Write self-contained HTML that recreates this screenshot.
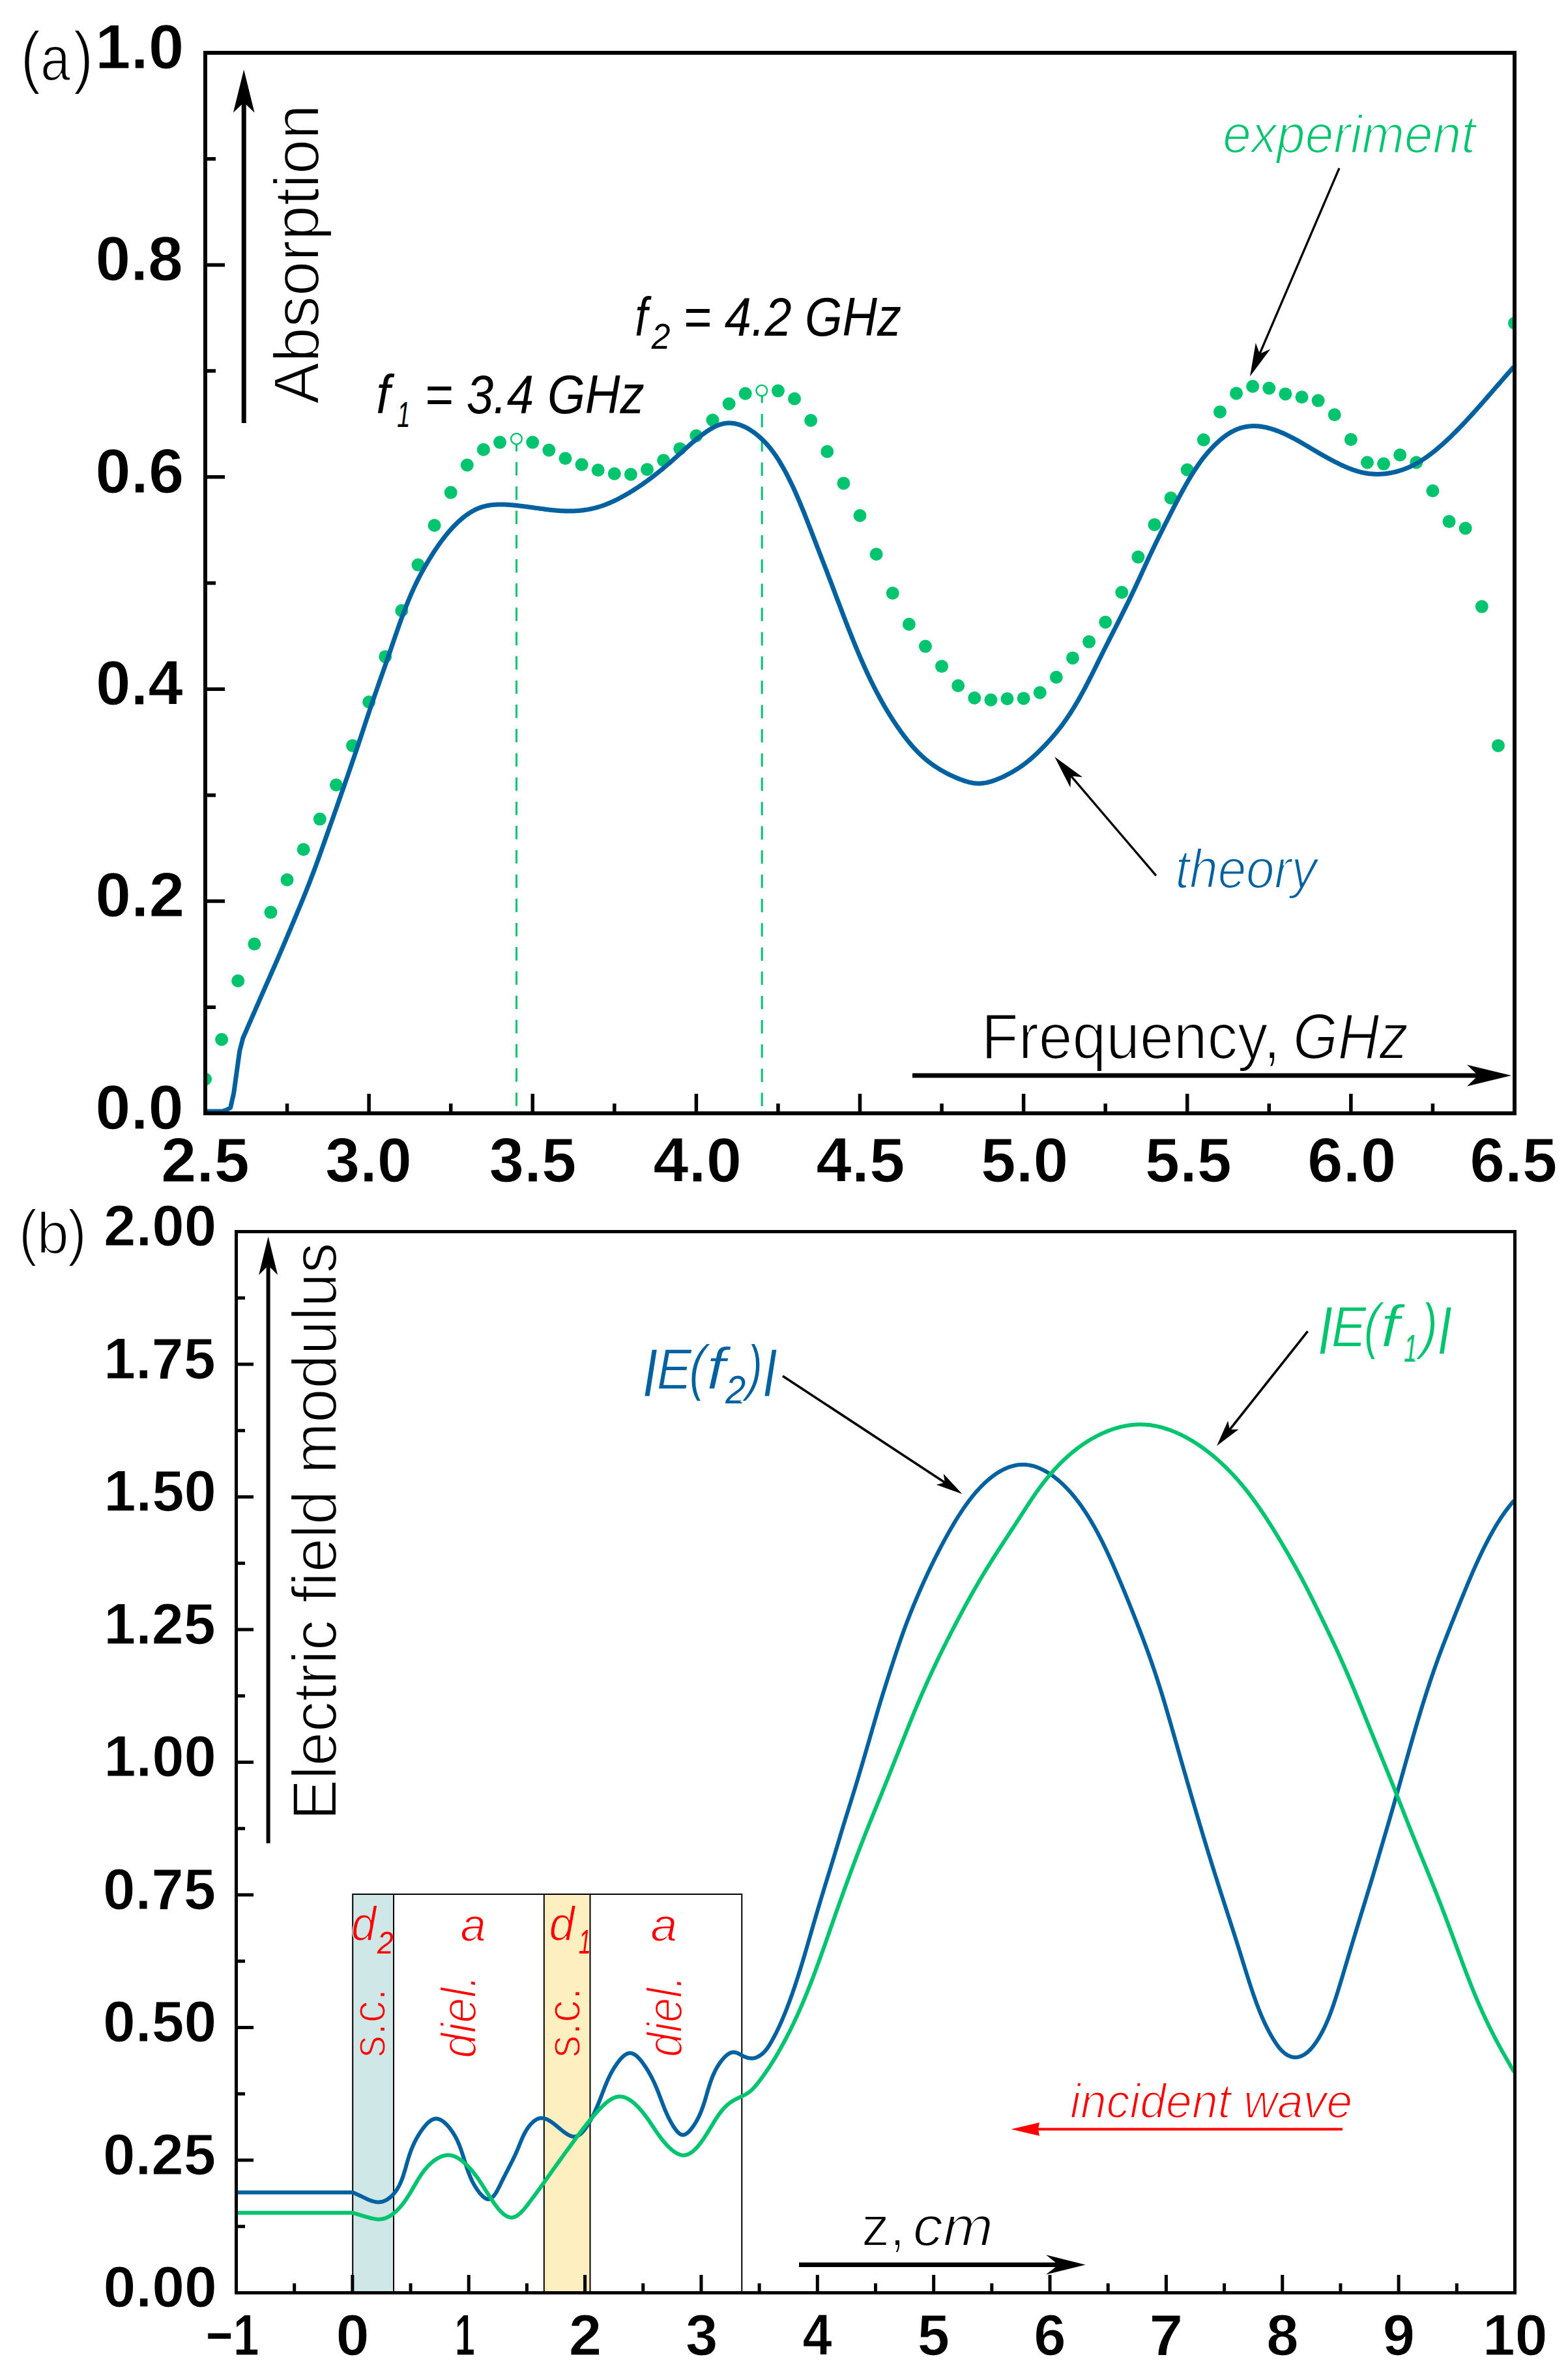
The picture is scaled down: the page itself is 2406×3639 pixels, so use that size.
<!DOCTYPE html><html><head><meta charset="utf-8"><title>Absorption and electric field</title><style>html,body{margin:0;padding:0;background:#fff;overflow:hidden}svg{display:block}</style></head><body><svg xmlns="http://www.w3.org/2000/svg" width="2406" height="3639" viewBox="0 0 2406 3639"><rect x="0" y="0" width="2406" height="3639" fill="#fff"/>
<defs><clipPath id="ca"><rect x="318" y="84" width="2003" height="1621"/></clipPath></defs>
<g fill="#00c46e" clip-path="url(#ca)"><circle cx="315" cy="1655.5" r="10"/><circle cx="340.11" cy="1594.7" r="10"/><circle cx="365.23" cy="1504.7" r="10"/><circle cx="390.34" cy="1448.3" r="10"/><circle cx="415.45" cy="1399.6" r="10"/><circle cx="440.56" cy="1349.8" r="10"/><circle cx="465.68" cy="1303.3" r="10"/><circle cx="490.79" cy="1256.6" r="10"/><circle cx="515.9" cy="1204.3" r="10"/><circle cx="541.01" cy="1143.9" r="10"/><circle cx="566.12" cy="1077" r="10"/><circle cx="591.24" cy="1007.4" r="10"/><circle cx="616.35" cy="936.7" r="10"/><circle cx="641.46" cy="866.6" r="10"/><circle cx="666.58" cy="806" r="10"/><circle cx="691.69" cy="755.6" r="10"/><circle cx="716.8" cy="713.5" r="10"/><circle cx="741.91" cy="689.8" r="10"/><circle cx="767.02" cy="678.6" r="10"/><circle cx="817.25" cy="678.6" r="10"/><circle cx="842.36" cy="690.6" r="10"/><circle cx="867.48" cy="703.3" r="10"/><circle cx="892.59" cy="712.8" r="10"/><circle cx="917.7" cy="721.2" r="10"/><circle cx="942.81" cy="726.8" r="10"/><circle cx="967.92" cy="727.8" r="10"/><circle cx="993.04" cy="720.3" r="10"/><circle cx="1018.15" cy="706.2" r="10"/><circle cx="1043.26" cy="688.4" r="10"/><circle cx="1068.38" cy="668.5" r="10"/><circle cx="1093.49" cy="644.5" r="10"/><circle cx="1118.6" cy="619.5" r="10"/><circle cx="1143.71" cy="603.7" r="10"/><circle cx="1193.94" cy="599.6" r="10"/><circle cx="1219.05" cy="611.8" r="10"/><circle cx="1244.16" cy="645" r="10"/><circle cx="1269.28" cy="692.7" r="10"/><circle cx="1294.39" cy="741.4" r="10"/><circle cx="1319.5" cy="791" r="10"/><circle cx="1344.61" cy="850.3" r="10"/><circle cx="1369.72" cy="910" r="10"/><circle cx="1394.84" cy="957.7" r="10"/><circle cx="1419.95" cy="991.6" r="10"/><circle cx="1445.06" cy="1022.2" r="10"/><circle cx="1470.17" cy="1052" r="10"/><circle cx="1495.29" cy="1070.7" r="10"/><circle cx="1520.4" cy="1073.7" r="10"/><circle cx="1545.51" cy="1072" r="10"/><circle cx="1570.62" cy="1071.4" r="10"/><circle cx="1595.74" cy="1062.5" r="10"/><circle cx="1620.85" cy="1039" r="10"/><circle cx="1645.96" cy="1009.4" r="10"/><circle cx="1671.08" cy="984.6" r="10"/><circle cx="1696.19" cy="954.5" r="10"/><circle cx="1721.3" cy="908.8" r="10"/><circle cx="1746.41" cy="854.6" r="10"/><circle cx="1771.53" cy="804.9" r="10"/><circle cx="1796.64" cy="764" r="10"/><circle cx="1821.75" cy="720.7" r="10"/><circle cx="1846.86" cy="674.8" r="10"/><circle cx="1871.97" cy="631.9" r="10"/><circle cx="1897.09" cy="603.4" r="10"/><circle cx="1922.2" cy="592.7" r="10"/><circle cx="1947.31" cy="595.6" r="10"/><circle cx="1972.42" cy="604.4" r="10"/><circle cx="1997.54" cy="609.2" r="10"/><circle cx="2022.65" cy="614.6" r="10"/><circle cx="2047.76" cy="636.3" r="10"/><circle cx="2072.88" cy="674.3" r="10"/><circle cx="2097.99" cy="709.5" r="10"/><circle cx="2123.1" cy="711.6" r="10"/><circle cx="2148.21" cy="698" r="10"/><circle cx="2173.32" cy="709.5" r="10"/><circle cx="2198.44" cy="753" r="10"/><circle cx="2223.55" cy="800.1" r="10"/><circle cx="2248.66" cy="810.5" r="10"/><circle cx="2273.78" cy="930.6" r="10"/><circle cx="2298.89" cy="1143.9" r="10"/><circle cx="2324" cy="495.8" r="10"/></g>
<g stroke="#00c46e" stroke-width="3" stroke-dasharray="20.5 16.7" fill="none"><line x1="792.5" y1="671.9" x2="792.5" y2="1705"/><line x1="1169.2" y1="597.8" x2="1169.2" y2="1705"/></g>
<g stroke="#00c46e" stroke-width="2.4" fill="#fff"><circle cx="792.5" cy="673.3" r="8.3"/><circle cx="1168.8" cy="599.2" r="8.3"/></g>
<path d="M318,1705L340.8,1705L347,1703L353.6,1699.5L358.7,1677L367.6,1613L372.7,1592.93L374.2,1589.47L375.7,1586.02L377.2,1582.56L378.7,1579.11L380.2,1575.66L381.7,1572.21L383.2,1568.76L384.7,1565.31L386.2,1561.86L387.7,1558.42L389.2,1554.98L390.7,1551.54L392.2,1548.1L393.7,1544.67L395.2,1541.24L396.7,1537.81L398.2,1534.39L399.7,1530.97L401.2,1527.55L402.7,1524.14L404.2,1520.73L405.7,1517.32L407.2,1513.91L408.7,1510.51L410.2,1507.11L411.7,1503.72L413.2,1500.32L414.7,1496.92L416.2,1493.52L417.7,1490.11L419.2,1486.7L420.7,1483.29L422.2,1479.87L423.7,1476.44L425.2,1473L426.7,1469.55L428.2,1466.08L429.7,1462.61L431.2,1459.12L432.7,1455.63L434.2,1452.12L435.7,1448.6L437.2,1445.08L438.7,1441.54L440.2,1438L441.7,1434.45L443.2,1430.9L444.7,1427.34L446.2,1423.77L447.7,1420.2L449.2,1416.62L450.7,1413.05L452.2,1409.46L453.7,1405.88L455.2,1402.29L456.7,1398.7L458.2,1395.1L459.7,1391.5L461.2,1387.88L462.7,1384.24L464.2,1380.59L465.7,1376.92L467.2,1373.23L468.7,1369.52L470.2,1365.78L471.7,1362.02L473.2,1358.22L474.7,1354.39L476.2,1350.53L477.7,1346.63L479.2,1342.7L480.7,1338.72L482.2,1334.71L483.7,1330.66L485.2,1326.59L486.7,1322.49L488.2,1318.36L489.7,1314.21L491.2,1310.04L492.7,1305.85L494.2,1301.65L495.7,1297.44L497.2,1293.21L498.7,1288.98L500.2,1284.75L501.7,1280.51L503.2,1276.27L504.7,1272.03L506.2,1267.79L507.7,1263.55L509.2,1259.3L510.7,1255.06L512.2,1250.81L513.7,1246.56L515.2,1242.3L516.7,1238.04L518.2,1233.77L519.7,1229.5L521.2,1225.23L522.7,1220.95L524.2,1216.66L525.7,1212.36L527.2,1208.06L528.7,1203.76L530.2,1199.44L531.7,1195.12L533.2,1190.78L534.7,1186.44L536.2,1182.08L537.7,1177.72L539.2,1173.34L540.7,1168.95L542.2,1164.55L543.7,1160.13L545.2,1155.7L546.7,1151.26L548.2,1146.8L549.7,1142.32L551.2,1137.83L552.7,1133.32L554.2,1128.81L555.7,1124.28L557.2,1119.75L558.7,1115.22L560.2,1110.7L561.7,1106.17L563.2,1101.66L564.7,1097.16L566.2,1092.66L567.7,1088.19L569.2,1083.74L570.7,1079.31L572.2,1074.9L573.7,1070.53L575.2,1066.18L576.7,1061.85L578.2,1057.54L579.7,1053.25L581.2,1048.97L582.7,1044.7L584.2,1040.43L585.7,1036.17L587.2,1031.91L588.7,1027.64L590.2,1023.36L591.7,1019.07L593.2,1014.77L594.7,1010.45L596.2,1006.1L597.7,1001.74L599.2,997.36L600.7,992.97L602.2,988.58L603.7,984.19L605.2,979.82L606.7,975.45L608.2,971.11L609.7,966.79L611.2,962.51L612.7,958.27L614.2,954.07L615.7,949.92L617.2,945.83L618.7,941.8L620.2,937.83L621.7,933.94L623.2,930.1L624.7,926.34L626.2,922.64L627.7,919.01L629.2,915.44L630.7,911.95L632.2,908.52L633.7,905.16L635.2,901.87L636.7,898.64L638.2,895.49L639.7,892.4L641.2,889.39L642.7,886.43L644.2,883.54L645.7,880.7L647.2,877.92L648.7,875.19L650.2,872.51L651.7,869.87L653.2,867.27L654.7,864.71L656.2,862.19L657.7,859.69L659.2,857.23L660.7,854.8L662.2,852.4L663.7,850.03L665.2,847.7L666.7,845.4L668.2,843.13L669.7,840.9L671.2,838.7L672.7,836.54L674.2,834.42L675.7,832.33L677.2,830.27L678.7,828.26L680.2,826.28L681.7,824.34L683.2,822.44L684.7,820.58L686.2,818.75L687.7,816.96L689.2,815.21L690.7,813.49L692.2,811.82L693.7,810.18L695.2,808.57L696.7,807L698.2,805.47L699.7,803.97L701.2,802.51L702.7,801.08L704.2,799.69L705.7,798.34L707.2,797.02L708.7,795.74L710.2,794.49L711.7,793.28L713.2,792.11L714.7,790.97L716.2,789.88L717.7,788.82L719.2,787.79L720.7,786.81L722.2,785.87L723.7,784.96L725.2,784.09L726.7,783.27L728.2,782.48L729.7,781.73L731.2,781.02L732.7,780.36L734.2,779.73L735.7,779.14L737.2,778.6L738.7,778.09L740.2,777.61L741.7,777.17L743.2,776.77L744.7,776.4L746.2,776.06L747.7,775.75L749.2,775.47L750.7,775.22L752.2,774.99L753.7,774.79L755.2,774.62L756.7,774.47L758.2,774.34L759.7,774.23L761.2,774.14L762.7,774.07L764.2,774.02L765.7,773.99L767.2,773.97L768.7,773.96L770.2,773.98L771.7,774L773.2,774.04L774.7,774.09L776.2,774.16L777.7,774.23L779.2,774.32L780.7,774.42L782.2,774.53L783.7,774.64L785.2,774.77L786.7,774.9L788.2,775.04L789.7,775.19L791.2,775.34L792.7,775.5L794.2,775.66L795.7,775.83L797.2,776L798.7,776.18L800.2,776.36L801.7,776.55L803.2,776.74L804.7,776.93L806.2,777.12L807.7,777.32L809.2,777.52L810.7,777.72L812.2,777.93L813.7,778.13L815.2,778.34L816.7,778.55L818.2,778.76L819.7,778.97L821.2,779.18L822.7,779.39L824.2,779.6L825.7,779.81L827.2,780.02L828.7,780.22L830.2,780.43L831.7,780.63L833.2,780.84L834.7,781.04L836.2,781.23L837.7,781.42L839.2,781.61L840.7,781.8L842.2,781.98L843.7,782.15L845.2,782.32L846.7,782.48L848.2,782.64L849.7,782.79L851.2,782.94L852.7,783.07L854.2,783.2L855.7,783.33L857.2,783.44L858.7,783.54L860.2,783.64L861.7,783.73L863.2,783.8L864.7,783.87L866.2,783.93L867.7,783.97L869.2,784.01L870.7,784.04L872.2,784.05L873.7,784.05L875.2,784.04L876.7,784.02L878.2,783.99L879.7,783.94L881.2,783.88L882.7,783.81L884.2,783.73L885.7,783.63L887.2,783.52L888.7,783.4L890.2,783.26L891.7,783.1L893.2,782.93L894.7,782.75L896.2,782.55L897.7,782.34L899.2,782.11L900.7,781.87L902.2,781.61L903.7,781.34L905.2,781.05L906.7,780.74L908.2,780.42L909.7,780.08L911.2,779.72L912.7,779.35L914.2,778.96L915.7,778.55L917.2,778.13L918.7,777.69L920.2,777.23L921.7,776.75L923.2,776.26L924.7,775.75L926.2,775.21L927.7,774.67L929.2,774.1L930.7,773.52L932.2,772.92L933.7,772.3L935.2,771.67L936.7,771.02L938.2,770.36L939.7,769.68L941.2,768.98L942.7,768.28L944.2,767.56L945.7,766.82L947.2,766.07L948.7,765.31L950.2,764.53L951.7,763.75L953.2,762.95L954.7,762.14L956.2,761.31L957.7,760.48L959.2,759.64L960.7,758.78L962.2,757.91L963.7,757.03L965.2,756.14L966.7,755.24L968.2,754.32L969.7,753.4L971.2,752.47L972.7,751.52L974.2,750.56L975.7,749.6L977.2,748.62L978.7,747.63L980.2,746.63L981.7,745.62L983.2,744.61L984.7,743.58L986.2,742.54L987.7,741.49L989.2,740.43L990.7,739.36L992.2,738.28L993.7,737.2L995.2,736.1L996.7,734.99L998.2,733.87L999.7,732.74L1001.2,731.61L1002.7,730.46L1004.2,729.3L1005.7,728.13L1007.2,726.95L1008.7,725.77L1010.2,724.57L1011.7,723.36L1013.2,722.14L1014.7,720.92L1016.2,719.68L1017.7,718.44L1019.2,717.18L1020.7,715.92L1022.2,714.65L1023.7,713.37L1025.2,712.09L1026.7,710.79L1028.2,709.49L1029.7,708.18L1031.2,706.87L1032.7,705.55L1034.2,704.22L1035.7,702.89L1037.2,701.55L1038.7,700.2L1040.2,698.85L1041.7,697.5L1043.2,696.15L1044.7,694.79L1046.2,693.44L1047.7,692.09L1049.2,690.73L1050.7,689.38L1052.2,688.04L1053.7,686.7L1055.2,685.37L1056.7,684.04L1058.2,682.72L1059.7,681.41L1061.2,680.11L1062.7,678.82L1064.2,677.55L1065.7,676.28L1067.2,675.03L1068.7,673.8L1070.2,672.58L1071.7,671.38L1073.2,670.19L1074.7,669.03L1076.2,667.88L1077.7,666.76L1079.2,665.65L1080.7,664.57L1082.2,663.52L1083.7,662.48L1085.2,661.47L1086.7,660.49L1088.2,659.54L1089.7,658.61L1091.2,657.72L1092.7,656.85L1094.2,656.03L1095.7,655.24L1097.2,654.49L1098.7,653.78L1100.2,653.12L1101.7,652.5L1103.2,651.94L1104.7,651.42L1106.2,650.95L1107.7,650.54L1109.2,650.17L1110.7,649.86L1112.2,649.59L1113.7,649.38L1115.2,649.22L1116.7,649.11L1118.2,649.05L1119.7,649.04L1121.2,649.09L1122.7,649.18L1124.2,649.33L1125.7,649.52L1127.2,649.77L1128.7,650.06L1130.2,650.39L1131.7,650.78L1133.2,651.21L1134.7,651.68L1136.2,652.2L1137.7,652.76L1139.2,653.36L1140.7,654L1142.2,654.68L1143.7,655.4L1145.2,656.16L1146.7,656.96L1148.2,657.8L1149.7,658.68L1151.2,659.6L1152.7,660.57L1154.2,661.57L1155.7,662.61L1157.2,663.7L1158.7,664.82L1160.2,665.99L1161.7,667.19L1163.2,668.44L1164.7,669.73L1166.2,671.06L1167.7,672.42L1169.2,673.83L1170.7,675.28L1172.2,676.77L1173.7,678.3L1175.2,679.88L1176.7,681.52L1178.2,683.2L1179.7,684.95L1181.2,686.75L1182.7,688.61L1184.2,690.53L1185.7,692.51L1187.2,694.55L1188.7,696.66L1190.2,698.83L1191.7,701.06L1193.2,703.35L1194.7,705.71L1196.2,708.13L1197.7,710.61L1199.2,713.16L1200.7,715.76L1202.2,718.42L1203.7,721.14L1205.2,723.92L1206.7,726.75L1208.2,729.63L1209.7,732.57L1211.2,735.56L1212.7,738.61L1214.2,741.71L1215.7,744.86L1217.2,748.07L1218.7,751.33L1220.2,754.64L1221.7,758.01L1223.2,761.43L1224.7,764.89L1226.2,768.4L1227.7,771.96L1229.2,775.57L1230.7,779.21L1232.2,782.9L1233.7,786.63L1235.2,790.39L1236.7,794.18L1238.2,798L1239.7,801.84L1241.2,805.7L1242.7,809.58L1244.2,813.46L1245.7,817.34L1247.2,821.23L1248.7,825.12L1250.2,829.01L1251.7,832.91L1253.2,836.8L1254.7,840.68L1256.2,844.57L1257.7,848.45L1259.2,852.32L1260.7,856.19L1262.2,860.07L1263.7,863.94L1265.2,867.82L1266.7,871.71L1268.2,875.61L1269.7,879.51L1271.2,883.44L1272.7,887.38L1274.2,891.33L1275.7,895.29L1277.2,899.26L1278.7,903.23L1280.2,907.21L1281.7,911.2L1283.2,915.18L1284.7,919.17L1286.2,923.15L1287.7,927.13L1289.2,931.1L1290.7,935.06L1292.2,939.01L1293.7,942.95L1295.2,946.88L1296.7,950.79L1298.2,954.69L1299.7,958.56L1301.2,962.41L1302.7,966.24L1304.2,970.05L1305.7,973.83L1307.2,977.58L1308.7,981.31L1310.2,985.01L1311.7,988.68L1313.2,992.33L1314.7,995.94L1316.2,999.52L1317.7,1003.07L1319.2,1006.59L1320.7,1010.07L1322.2,1013.52L1323.7,1016.93L1325.2,1020.31L1326.7,1023.65L1328.2,1026.95L1329.7,1030.22L1331.2,1033.44L1332.7,1036.63L1334.2,1039.78L1335.7,1042.9L1337.2,1045.97L1338.7,1049.01L1340.2,1052.02L1341.7,1054.98L1343.2,1057.91L1344.7,1060.8L1346.2,1063.66L1347.7,1066.48L1349.2,1069.26L1350.7,1072.01L1352.2,1074.72L1353.7,1077.4L1355.2,1080.04L1356.7,1082.64L1358.2,1085.21L1359.7,1087.75L1361.2,1090.26L1362.7,1092.73L1364.2,1095.17L1365.7,1097.58L1367.2,1099.96L1368.7,1102.3L1370.2,1104.62L1371.7,1106.91L1373.2,1109.17L1374.7,1111.41L1376.2,1113.61L1377.7,1115.79L1379.2,1117.95L1380.7,1120.07L1382.2,1122.17L1383.7,1124.25L1385.2,1126.29L1386.7,1128.3L1388.2,1130.29L1389.7,1132.24L1391.2,1134.17L1392.7,1136.06L1394.2,1137.92L1395.7,1139.74L1397.2,1141.54L1398.7,1143.3L1400.2,1145.02L1401.7,1146.71L1403.2,1148.37L1404.7,1149.98L1406.2,1151.57L1407.7,1153.12L1409.2,1154.63L1410.7,1156.11L1412.2,1157.55L1413.7,1158.97L1415.2,1160.35L1416.7,1161.7L1418.2,1163.02L1419.7,1164.31L1421.2,1165.57L1422.7,1166.8L1424.2,1168L1425.7,1169.18L1427.2,1170.32L1428.7,1171.44L1430.2,1172.54L1431.7,1173.6L1433.2,1174.65L1434.7,1175.67L1436.2,1176.66L1437.7,1177.64L1439.2,1178.59L1440.7,1179.52L1442.2,1180.43L1443.7,1181.32L1445.2,1182.19L1446.7,1183.04L1448.2,1183.88L1449.7,1184.7L1451.2,1185.5L1452.7,1186.28L1454.2,1187.05L1455.7,1187.81L1457.2,1188.55L1458.7,1189.28L1460.2,1189.99L1461.7,1190.69L1463.2,1191.37L1464.7,1192.04L1466.2,1192.69L1467.7,1193.32L1469.2,1193.94L1470.7,1194.55L1472.2,1195.13L1473.7,1195.71L1475.2,1196.26L1476.7,1196.8L1478.2,1197.32L1479.7,1197.83L1481.2,1198.31L1482.7,1198.78L1484.2,1199.23L1485.7,1199.65L1487.2,1200.04L1488.7,1200.4L1490.2,1200.72L1491.7,1201.01L1493.2,1201.26L1494.7,1201.47L1496.2,1201.65L1497.7,1201.78L1499.2,1201.88L1500.7,1201.93L1502.2,1201.94L1503.7,1201.91L1505.2,1201.84L1506.7,1201.72L1508.2,1201.57L1509.7,1201.38L1511.2,1201.15L1512.7,1200.88L1514.2,1200.58L1515.7,1200.24L1517.2,1199.87L1518.7,1199.46L1520.2,1199.03L1521.7,1198.58L1523.2,1198.09L1524.7,1197.59L1526.2,1197.06L1527.7,1196.51L1529.2,1195.95L1530.7,1195.36L1532.2,1194.76L1533.7,1194.13L1535.2,1193.49L1536.7,1192.83L1538.2,1192.14L1539.7,1191.45L1541.2,1190.73L1542.7,1189.99L1544.2,1189.24L1545.7,1188.47L1547.2,1187.68L1548.7,1186.88L1550.2,1186.05L1551.7,1185.21L1553.2,1184.36L1554.7,1183.49L1556.2,1182.59L1557.7,1181.68L1559.2,1180.76L1560.7,1179.81L1562.2,1178.84L1563.7,1177.85L1565.2,1176.84L1566.7,1175.81L1568.2,1174.76L1569.7,1173.68L1571.2,1172.58L1572.7,1171.46L1574.2,1170.31L1575.7,1169.14L1577.2,1167.95L1578.7,1166.73L1580.2,1165.48L1581.7,1164.21L1583.2,1162.92L1584.7,1161.6L1586.2,1160.26L1587.7,1158.9L1589.2,1157.52L1590.7,1156.11L1592.2,1154.69L1593.7,1153.24L1595.2,1151.77L1596.7,1150.29L1598.2,1148.79L1599.7,1147.26L1601.2,1145.72L1602.7,1144.17L1604.2,1142.59L1605.7,1141L1607.2,1139.38L1608.7,1137.75L1610.2,1136.1L1611.7,1134.42L1613.2,1132.72L1614.7,1131L1616.2,1129.25L1617.7,1127.48L1619.2,1125.68L1620.7,1123.86L1622.2,1122.01L1623.7,1120.12L1625.2,1118.21L1626.7,1116.27L1628.2,1114.3L1629.7,1112.29L1631.2,1110.26L1632.7,1108.19L1634.2,1106.08L1635.7,1103.95L1637.2,1101.78L1638.7,1099.57L1640.2,1097.33L1641.7,1095.05L1643.2,1092.74L1644.7,1090.39L1646.2,1088L1647.7,1085.58L1649.2,1083.12L1650.7,1080.63L1652.2,1078.09L1653.7,1075.53L1655.2,1072.92L1656.7,1070.29L1658.2,1067.61L1659.7,1064.91L1661.2,1062.17L1662.7,1059.39L1664.2,1056.59L1665.7,1053.76L1667.2,1050.9L1668.7,1048.01L1670.2,1045.09L1671.7,1042.16L1673.2,1039.2L1674.7,1036.23L1676.2,1033.24L1677.7,1030.23L1679.2,1027.22L1680.7,1024.19L1682.2,1021.16L1683.7,1018.13L1685.2,1015.09L1686.7,1012.06L1688.2,1009.03L1689.7,1006.01L1691.2,1002.99L1692.7,999.99L1694.2,997L1695.7,994.01L1697.2,991.04L1698.7,988.07L1700.2,985.11L1701.7,982.16L1703.2,979.21L1704.7,976.26L1706.2,973.31L1707.7,970.37L1709.2,967.42L1710.7,964.47L1712.2,961.52L1713.7,958.56L1715.2,955.6L1716.7,952.64L1718.2,949.66L1719.7,946.68L1721.2,943.69L1722.7,940.69L1724.2,937.68L1725.7,934.66L1727.2,931.62L1728.7,928.58L1730.2,925.52L1731.7,922.44L1733.2,919.35L1734.7,916.24L1736.2,913.12L1737.7,909.98L1739.2,906.82L1740.7,903.64L1742.2,900.43L1743.7,897.22L1745.2,893.98L1746.7,890.73L1748.2,887.47L1749.7,884.21L1751.2,880.93L1752.7,877.66L1754.2,874.38L1755.7,871.1L1757.2,867.83L1758.7,864.57L1760.2,861.32L1761.7,858.07L1763.2,854.85L1764.7,851.64L1766.2,848.45L1767.7,845.28L1769.2,842.13L1770.7,839.01L1772.2,835.9L1773.7,832.82L1775.2,829.75L1776.7,826.69L1778.2,823.65L1779.7,820.63L1781.2,817.61L1782.7,814.61L1784.2,811.62L1785.7,808.63L1787.2,805.66L1788.7,802.69L1790.2,799.72L1791.7,796.76L1793.2,793.8L1794.7,790.85L1796.2,787.9L1797.7,784.96L1799.2,782.03L1800.7,779.1L1802.2,776.19L1803.7,773.3L1805.2,770.41L1806.7,767.55L1808.2,764.7L1809.7,761.87L1811.2,759.07L1812.7,756.28L1814.2,753.52L1815.7,750.79L1817.2,748.09L1818.7,745.41L1820.2,742.77L1821.7,740.15L1823.2,737.57L1824.7,735.03L1826.2,732.51L1827.7,730.04L1829.2,727.6L1830.7,725.2L1832.2,722.84L1833.7,720.51L1835.2,718.23L1836.7,715.99L1838.2,713.79L1839.7,711.64L1841.2,709.53L1842.7,707.47L1844.2,705.46L1845.7,703.49L1847.2,701.57L1848.7,699.69L1850.2,697.85L1851.7,696.05L1853.2,694.3L1854.7,692.58L1856.2,690.9L1857.7,689.26L1859.2,687.66L1860.7,686.08L1862.2,684.55L1863.7,683.04L1865.2,681.56L1866.7,680.12L1868.2,678.71L1869.7,677.34L1871.2,676L1872.7,674.7L1874.2,673.43L1875.7,672.2L1877.2,671.01L1878.7,669.85L1880.2,668.74L1881.7,667.66L1883.2,666.63L1884.7,665.63L1886.2,664.68L1887.7,663.77L1889.2,662.9L1890.7,662.07L1892.2,661.29L1893.7,660.55L1895.2,659.84L1896.7,659.18L1898.2,658.56L1899.7,657.98L1901.2,657.44L1902.7,656.93L1904.2,656.47L1905.7,656.04L1907.2,655.64L1908.7,655.29L1910.2,654.97L1911.7,654.68L1913.2,654.43L1914.7,654.21L1916.2,654.03L1917.7,653.88L1919.2,653.76L1920.7,653.68L1922.2,653.62L1923.7,653.6L1925.2,653.61L1926.7,653.65L1928.2,653.72L1929.7,653.81L1931.2,653.94L1932.7,654.09L1934.2,654.27L1935.7,654.48L1937.2,654.71L1938.7,654.97L1940.2,655.25L1941.7,655.55L1943.2,655.88L1944.7,656.24L1946.2,656.61L1947.7,657.01L1949.2,657.43L1950.7,657.87L1952.2,658.33L1953.7,658.8L1955.2,659.3L1956.7,659.82L1958.2,660.35L1959.7,660.9L1961.2,661.47L1962.7,662.06L1964.2,662.66L1965.7,663.28L1967.2,663.92L1968.7,664.57L1970.2,665.23L1971.7,665.91L1973.2,666.61L1974.7,667.31L1976.2,668.04L1977.7,668.77L1979.2,669.52L1980.7,670.28L1982.2,671.05L1983.7,671.83L1985.2,672.62L1986.7,673.43L1988.2,674.24L1989.7,675.06L1991.2,675.89L1992.7,676.73L1994.2,677.58L1995.7,678.43L1997.2,679.29L1998.7,680.16L2000.2,681.03L2001.7,681.91L2003.2,682.79L2004.7,683.68L2006.2,684.57L2007.7,685.46L2009.2,686.36L2010.7,687.25L2012.2,688.15L2013.7,689.05L2015.2,689.94L2016.7,690.83L2018.2,691.72L2019.7,692.6L2021.2,693.48L2022.7,694.36L2024.2,695.23L2025.7,696.09L2027.2,696.95L2028.7,697.81L2030.2,698.66L2031.7,699.5L2033.2,700.34L2034.7,701.17L2036.2,701.99L2037.7,702.82L2039.2,703.63L2040.7,704.44L2042.2,705.24L2043.7,706.04L2045.2,706.83L2046.7,707.61L2048.2,708.39L2049.7,709.15L2051.2,709.91L2052.7,710.66L2054.2,711.4L2055.7,712.13L2057.2,712.85L2058.7,713.55L2060.2,714.25L2061.7,714.93L2063.2,715.6L2064.7,716.25L2066.2,716.89L2067.7,717.52L2069.2,718.13L2070.7,718.72L2072.2,719.3L2073.7,719.87L2075.2,720.41L2076.7,720.94L2078.2,721.45L2079.7,721.94L2081.2,722.42L2082.7,722.87L2084.2,723.31L2085.7,723.72L2087.2,724.11L2088.7,724.49L2090.2,724.84L2091.7,725.17L2093.2,725.47L2094.7,725.76L2096.2,726.02L2097.7,726.26L2099.2,726.47L2100.7,726.67L2102.2,726.84L2103.7,726.99L2105.2,727.11L2106.7,727.22L2108.2,727.3L2109.7,727.37L2111.2,727.41L2112.7,727.43L2114.2,727.42L2115.7,727.4L2117.2,727.35L2118.7,727.29L2120.2,727.2L2121.7,727.09L2123.2,726.97L2124.7,726.82L2126.2,726.65L2127.7,726.46L2129.2,726.25L2130.7,726.02L2132.2,725.77L2133.7,725.51L2135.2,725.22L2136.7,724.91L2138.2,724.59L2139.7,724.24L2141.2,723.88L2142.7,723.49L2144.2,723.09L2145.7,722.67L2147.2,722.23L2148.7,721.77L2150.2,721.29L2151.7,720.8L2153.2,720.28L2154.7,719.74L2156.2,719.18L2157.7,718.6L2159.2,717.99L2160.7,717.37L2162.2,716.72L2163.7,716.05L2165.2,715.36L2166.7,714.64L2168.2,713.9L2169.7,713.13L2171.2,712.34L2172.7,711.53L2174.2,710.69L2175.7,709.83L2177.2,708.94L2178.7,708.04L2180.2,707.11L2181.7,706.15L2183.2,705.18L2184.7,704.19L2186.2,703.17L2187.7,702.14L2189.2,701.08L2190.7,700.01L2192.2,698.91L2193.7,697.8L2195.2,696.67L2196.7,695.52L2198.2,694.35L2199.7,693.17L2201.2,691.97L2202.7,690.75L2204.2,689.51L2205.7,688.26L2207.2,687L2208.7,685.71L2210.2,684.41L2211.7,683.1L2213.2,681.77L2214.7,680.43L2216.2,679.07L2217.7,677.7L2219.2,676.32L2220.7,674.92L2222.2,673.51L2223.7,672.09L2225.2,670.65L2226.7,669.2L2228.2,667.75L2229.7,666.27L2231.2,664.79L2232.7,663.3L2234.2,661.79L2235.7,660.28L2237.2,658.75L2238.7,657.22L2240.2,655.67L2241.7,654.11L2243.2,652.55L2244.7,650.97L2246.2,649.39L2247.7,647.8L2249.2,646.2L2250.7,644.59L2252.2,642.98L2253.7,641.35L2255.2,639.72L2256.7,638.08L2258.2,636.44L2259.7,634.78L2261.2,633.13L2262.7,631.46L2264.2,629.79L2265.7,628.11L2267.2,626.43L2268.7,624.74L2270.2,623.05L2271.7,621.36L2273.2,619.65L2274.7,617.95L2276.2,616.24L2277.7,614.53L2279.2,612.81L2280.7,611.09L2282.2,609.37L2283.7,607.64L2285.2,605.92L2286.7,604.19L2288.2,602.47L2289.7,600.74L2291.2,599.01L2292.7,597.28L2294.2,595.55L2295.7,593.82L2297.2,592.1L2298.7,590.37L2300.2,588.65L2301.7,586.92L2303.2,585.2L2304.7,583.48L2306.2,581.76L2307.7,580.04L2309.2,578.32L2310.7,576.6L2312.2,574.89L2313.7,573.17L2315.2,571.45L2316.7,569.74L2318.2,568.02L2319.7,566.31L2321.2,564.59L2322.7,562.88" fill="none" stroke="#0061a0" stroke-width="7" stroke-linejoin="round"/>
<path d="M315,1708H345M315,1545.3H331M315,1382.6H345M315,1219.9H331M315,1057.2H345M315,894.5H331M315,731.8H345M315,569.1H331M315,406.4H345M315,243.7H331M315,81H345M315,1708V1678M440.56,1708V1693M566.12,1708V1678M691.69,1708V1693M817.25,1708V1678M942.81,1708V1693M1068.38,1708V1678M1193.94,1708V1693M1319.5,1708V1678M1445.06,1708V1693M1570.62,1708V1678M1696.19,1708V1693M1821.75,1708V1678M1947.31,1708V1693M2072.88,1708V1678M2198.44,1708V1693M2324,1708V1678" stroke="#000" stroke-width="5.5" fill="none"/>
<rect x="315" y="81" width="2009" height="1627" fill="none" stroke="#000" stroke-width="6"/>
<line x1="374.2" y1="649" x2="374.2" y2="155.3" stroke="#000" stroke-width="7"/><path d="M374.2,106.8L390.5,172.8L374.2,157.3L357.9,172.8Z" fill="#000"/>
<line x1="1400" y1="1650" x2="2270" y2="1650" stroke="#000" stroke-width="7"/><path d="M2319,1650L2251,1666.5L2268,1650L2251,1633.5Z" fill="#000"/>
<line x1="2055" y1="258" x2="1932.18" y2="544.51" stroke="#000" stroke-width="3.3"/><path d="M1918,577.6L1926.79,525.88L1932.97,542.67L1949.4,535.57Z" fill="#000"/>
<line x1="1774" y1="1343.4" x2="1642.04" y2="1188.91" stroke="#000" stroke-width="3.3"/><path d="M1618.2,1161L1661.13,1192.32L1643.34,1190.43L1642.43,1208.3Z" fill="#000"/>
<rect x="541.2" y="2906" width="62.8" height="611" fill="#d0e7e8"/>
<rect x="834.8" y="2906" width="70.7" height="611" fill="#fdefc0"/>
<g stroke="#000" stroke-width="2" fill="none"><path d="M541.2,3517V2906H1138.3V3517M604,2906V3517M834.8,2906V3517M905.5,2906V3517"/></g>
<path d="M362.5,3363.5L541.2,3363.45L543.03,3364.27L544.86,3365.09L546.69,3365.91L548.52,3366.73L550.35,3367.57L552.18,3368.41L554,3369.26L555.83,3370.13L557.65,3371.01L559.48,3371.89L561.31,3372.77L563.14,3373.63L564.99,3374.46L566.85,3375.24L568.73,3375.96L570.63,3376.61L572.55,3377.18L574.49,3377.65L576.44,3378.02L578.38,3378.27L580.32,3378.38L582.25,3378.35L584.16,3378.17L586.04,3377.81L587.89,3377.3L589.71,3376.63L591.5,3375.83L593.24,3374.9L594.94,3373.85L596.59,3372.69L598.19,3371.44L599.74,3370.11L601.23,3368.7L602.67,3367.24L604.04,3365.72L605.34,3364.16L606.58,3362.57L607.77,3360.94L608.89,3359.27L609.96,3357.58L610.98,3355.85L611.95,3354.09L612.87,3352.31L613.75,3350.5L614.59,3348.67L615.39,3346.82L616.16,3344.95L616.89,3343.06L617.59,3341.15L618.27,3339.23L618.92,3337.3L619.55,3335.36L620.16,3333.41L620.75,3331.45L621.33,3329.49L621.9,3327.53L622.46,3325.57L623.01,3323.6L623.57,3321.64L624.12,3319.69L624.67,3317.74L625.23,3315.79L625.8,3313.86L626.38,3311.94L626.98,3310.04L627.58,3308.14L628.2,3306.25L628.84,3304.38L629.49,3302.51L630.17,3300.65L630.86,3298.8L631.58,3296.96L632.32,3295.13L633.08,3293.3L633.87,3291.48L634.69,3289.66L635.53,3287.85L636.41,3286.05L637.31,3284.24L638.25,3282.45L639.22,3280.65L640.23,3278.86L641.27,3277.07L642.35,3275.28L643.47,3273.5L644.63,3271.71L645.83,3269.92L647.08,3268.14L648.37,3266.35L649.7,3264.57L651.07,3262.82L652.49,3261.12L653.93,3259.48L655.41,3257.92L656.92,3256.46L658.46,3255.11L660.03,3253.89L661.62,3252.83L663.22,3251.93L664.85,3251.22L666.49,3250.71L668.15,3250.43L669.82,3250.37L671.49,3250.56L673.16,3250.97L674.84,3251.58L676.5,3252.39L678.15,3253.36L679.79,3254.48L681.4,3255.74L682.98,3257.12L684.54,3258.61L686.05,3260.17L687.53,3261.81L688.95,3263.49L690.33,3265.2L691.65,3266.94L692.91,3268.68L694.12,3270.43L695.28,3272.2L696.39,3273.98L697.45,3275.76L698.47,3277.56L699.44,3279.36L700.38,3281.17L701.27,3282.99L702.13,3284.82L702.96,3286.66L703.75,3288.5L704.52,3290.35L705.26,3292.2L705.97,3294.07L706.67,3295.93L707.34,3297.8L707.99,3299.68L708.63,3301.56L709.26,3303.44L709.87,3305.33L710.47,3307.22L711.07,3309.12L711.67,3311.01L712.26,3312.91L712.85,3314.81L713.44,3316.71L714.04,3318.61L714.64,3320.51L715.26,3322.4L715.88,3324.3L716.51,3326.2L717.16,3328.09L717.83,3329.98L718.51,3331.86L719.21,3333.75L719.94,3335.62L720.69,3337.49L721.47,3339.36L722.27,3341.22L723.11,3343.07L723.97,3344.91L724.88,3346.75L725.81,3348.58L726.79,3350.39L727.81,3352.2L728.87,3354L729.97,3355.78L731.12,3357.56L732.32,3359.32L733.57,3361.07L734.87,3362.8L736.22,3364.51L737.62,3366.16L739.04,3367.73L740.49,3369.18L741.96,3370.5L743.43,3371.64L744.91,3372.59L746.37,3373.32L747.82,3373.79L749.24,3373.97L750.63,3373.86L751.99,3373.47L753.31,3372.82L754.61,3371.92L755.88,3370.8L757.12,3369.48L758.34,3367.99L759.54,3366.34L760.71,3364.55L761.86,3362.65L762.99,3360.65L764.1,3358.57L765.2,3356.45L766.28,3354.29L767.34,3352.13L768.4,3349.97L769.44,3347.84L770.47,3345.76L771.49,3343.71L772.49,3341.7L773.49,3339.72L774.48,3337.78L775.45,3335.87L776.42,3333.98L777.37,3332.13L778.32,3330.29L779.25,3328.48L780.17,3326.69L781.09,3324.91L781.99,3323.15L782.88,3321.41L783.76,3319.67L784.64,3317.95L785.5,3316.23L786.35,3314.52L787.2,3312.81L788.03,3311.1L788.86,3309.39L789.67,3307.68L790.48,3305.96L791.27,3304.24L792.06,3302.5L792.84,3300.75L793.61,3298.99L794.37,3297.22L795.12,3295.42L795.86,3293.61L796.6,3291.78L797.34,3289.94L798.09,3288.09L798.84,3286.24L799.61,3284.38L800.39,3282.52L801.2,3280.66L802.02,3278.8L802.88,3276.96L803.76,3275.12L804.68,3273.3L805.64,3271.5L806.65,3269.71L807.7,3267.95L808.8,3266.21L809.96,3264.5L811.17,3262.82L812.45,3261.17L813.8,3259.56L815.2,3258.01L816.67,3256.53L818.18,3255.14L819.75,3253.86L821.36,3252.7L823,3251.69L824.68,3250.85L826.39,3250.18L828.13,3249.72L829.89,3249.47L831.66,3249.44L833.45,3249.63L835.24,3250.01L837.04,3250.56L838.84,3251.27L840.64,3252.12L842.43,3253.1L844.21,3254.17L845.97,3255.34L847.71,3256.57L849.43,3257.86L851.13,3259.18L852.8,3260.51L854.44,3261.86L856.06,3263.21L857.68,3264.56L859.29,3265.9L860.9,3267.23L862.52,3268.54L864.16,3269.83L865.82,3271.08L867.5,3272.29L869.21,3273.45L870.94,3274.53L872.68,3275.51L874.43,3276.36L876.17,3277.05L877.9,3277.57L879.62,3277.88L881.31,3277.97L882.97,3277.81L884.61,3277.42L886.21,3276.8L887.77,3275.99L889.31,3274.99L890.81,3273.82L892.28,3272.5L893.72,3271.05L895.12,3269.47L896.48,3267.8L897.81,3266.05L899.1,3264.23L900.36,3262.36L901.58,3260.46L902.76,3258.54L903.91,3256.63L905.02,3254.72L906.09,3252.83L907.13,3250.94L908.14,3249.06L909.11,3247.19L910.06,3245.32L910.98,3243.46L911.87,3241.61L912.74,3239.77L913.58,3237.93L914.41,3236.09L915.21,3234.26L916,3232.44L916.77,3230.61L917.52,3228.8L918.26,3226.98L918.99,3225.17L919.71,3223.36L920.41,3221.55L921.12,3219.74L921.81,3217.93L922.5,3216.13L923.19,3214.32L923.88,3212.52L924.57,3210.71L925.26,3208.9L925.95,3207.09L926.65,3205.28L927.35,3203.47L928.07,3201.66L928.8,3199.85L929.53,3198.03L930.29,3196.22L931.06,3194.41L931.84,3192.59L932.65,3190.78L933.48,3188.97L934.33,3187.15L935.2,3185.34L936.1,3183.53L937.03,3181.72L937.99,3179.91L938.99,3178.11L940.01,3176.3L941.08,3174.5L942.18,3172.69L943.31,3170.89L944.49,3169.09L945.72,3167.3L946.98,3165.5L948.29,3163.72L949.65,3161.96L951.04,3160.24L952.47,3158.58L953.92,3157.01L955.41,3155.54L956.92,3154.2L958.45,3153L960,3151.96L961.57,3151.1L963.14,3150.44L964.72,3150L966.31,3149.81L967.89,3149.86L969.48,3150.16L971.06,3150.68L972.63,3151.4L974.19,3152.32L975.73,3153.41L977.26,3154.65L978.78,3156.04L980.27,3157.54L981.74,3159.15L983.18,3160.85L984.59,3162.62L985.98,3164.45L987.33,3166.31L988.64,3168.19L989.91,3170.08L991.14,3171.96L992.34,3173.83L993.49,3175.68L994.61,3177.53L995.69,3179.36L996.73,3181.19L997.75,3183.01L998.73,3184.82L999.68,3186.63L1000.61,3188.43L1001.51,3190.23L1002.38,3192.02L1003.23,3193.81L1004.06,3195.59L1004.87,3197.38L1005.66,3199.16L1006.43,3200.94L1007.19,3202.73L1007.93,3204.52L1008.66,3206.3L1009.38,3208.1L1010.09,3209.89L1010.8,3211.69L1011.49,3213.5L1012.18,3215.31L1012.87,3217.13L1013.55,3218.95L1014.24,3220.78L1014.93,3222.62L1015.62,3224.46L1016.32,3226.3L1017.02,3228.15L1017.74,3230L1018.46,3231.85L1019.2,3233.71L1019.95,3235.57L1020.72,3237.43L1021.51,3239.29L1022.31,3241.15L1023.14,3243.01L1023.99,3244.87L1024.87,3246.74L1025.77,3248.6L1026.7,3250.46L1027.66,3252.31L1028.65,3254.17L1029.68,3256.02L1030.74,3257.87L1031.84,3259.72L1032.98,3261.56L1034.16,3263.4L1035.38,3265.21L1036.64,3266.97L1037.93,3268.65L1039.25,3270.21L1040.61,3271.61L1042,3272.84L1043.41,3273.85L1044.84,3274.62L1046.3,3275.11L1047.77,3275.28L1049.26,3275.14L1050.76,3274.7L1052.26,3273.99L1053.75,3273.05L1055.24,3271.89L1056.71,3270.55L1058.15,3269.07L1059.57,3267.46L1060.95,3265.76L1062.29,3264L1063.58,3262.2L1064.82,3260.39L1066,3258.57L1067.14,3256.75L1068.23,3254.93L1069.27,3253.09L1070.27,3251.25L1071.23,3249.41L1072.14,3247.56L1073.02,3245.7L1073.87,3243.84L1074.68,3241.98L1075.46,3240.11L1076.21,3238.24L1076.93,3236.36L1077.63,3234.48L1078.31,3232.6L1078.96,3230.71L1079.59,3228.82L1080.21,3226.93L1080.81,3225.03L1081.4,3223.13L1081.98,3221.23L1082.55,3219.32L1083.12,3217.42L1083.68,3215.51L1084.23,3213.6L1084.79,3211.69L1085.35,3209.78L1085.91,3207.87L1086.47,3205.96L1087.05,3204.05L1087.63,3202.14L1088.23,3200.23L1088.83,3198.32L1089.46,3196.42L1090.1,3194.52L1090.76,3192.63L1091.44,3190.74L1092.14,3188.86L1092.87,3186.99L1093.63,3185.12L1094.41,3183.26L1095.23,3181.41L1096.07,3179.57L1096.96,3177.74L1097.87,3175.93L1098.83,3174.12L1099.83,3172.33L1100.87,3170.55L1101.95,3168.78L1103.08,3167.03L1104.26,3165.3L1105.49,3163.58L1106.77,3161.88L1108.11,3160.2L1109.49,3158.55L1110.93,3156.95L1112.41,3155.43L1113.92,3154.01L1115.48,3152.69L1117.07,3151.52L1118.68,3150.5L1120.32,3149.66L1121.98,3149.01L1123.65,3148.59L1125.34,3148.4L1127.04,3148.48L1128.75,3148.81L1130.46,3149.35L1132.19,3150.07L1133.94,3150.92L1135.7,3151.85L1137.49,3152.81L1139.31,3153.78L1141.15,3154.69L1143.03,3155.51L1144.93,3156.23L1146.85,3156.83L1148.78,3157.29L1150.72,3157.6L1152.65,3157.74L1154.57,3157.71L1156.47,3157.49L1158.34,3157.09L1160.18,3156.52L1161.99,3155.79L1163.75,3154.93L1165.46,3153.94L1167.11,3152.84L1168.69,3151.64L1170.21,3150.36L1171.67,3149L1173.06,3147.56L1174.39,3146.06L1175.68,3144.51L1176.91,3142.9L1178.1,3141.24L1179.25,3139.55L1180.36,3137.82L1181.45,3136.07L1182.5,3134.29L1183.54,3132.5L1184.55,3130.71L1185.55,3128.91L1186.53,3127.1L1187.5,3125.3L1188.46,3123.49L1189.4,3121.68L1190.33,3119.86L1191.24,3118.04L1192.15,3116.22L1193.04,3114.4L1193.92,3112.57L1194.78,3110.75L1195.64,3108.92L1196.48,3107.08L1197.32,3105.25L1198.14,3103.41L1198.95,3101.57L1199.76,3099.73L1200.55,3097.88L1201.34,3096.04L1202.12,3094.19L1202.89,3092.34L1203.65,3090.49L1204.41,3088.63L1205.15,3086.78L1205.9,3084.92L1206.63,3083.06L1207.36,3081.2L1208.08,3079.34L1208.79,3077.47L1209.5,3075.61L1210.2,3073.74L1210.9,3071.87L1211.59,3070L1212.28,3068.13L1212.96,3066.25L1213.63,3064.38L1214.3,3062.5L1214.97,3060.62L1215.63,3058.74L1216.28,3056.86L1216.93,3054.98L1217.58,3053.09L1218.23,3051.21L1218.86,3049.32L1219.5,3047.43L1220.13,3045.54L1220.76,3043.65L1221.38,3041.76L1222.01,3039.87L1222.62,3037.97L1223.24,3036.08L1223.85,3034.18L1224.46,3032.28L1225.06,3030.38L1225.66,3028.48L1226.26,3026.58L1226.86,3024.68L1227.45,3022.77L1228.04,3020.87L1228.63,3018.96L1229.22,3017.06L1229.8,3015.15L1230.38,3013.24L1230.96,3011.33L1231.54,3009.42L1232.11,3007.51L1232.68,3005.6L1233.26,3003.69L1233.82,3001.78L1234.39,2999.86L1234.96,2997.95L1235.52,2996.04L1236.09,2994.12L1236.65,2992.2L1237.21,2990.29L1237.77,2988.37L1238.33,2986.45L1238.88,2984.54L1239.44,2982.62L1240,2980.7L1240.55,2978.78L1241.11,2976.86L1241.66,2974.94L1242.22,2973.02L1242.77,2971.1L1243.33,2969.18L1243.88,2967.26L1244.43,2965.34L1244.99,2963.42L1245.54,2961.5L1246.1,2959.58L1246.65,2957.66L1247.21,2955.74L1247.77,2953.82L1248.32,2951.9L1248.88,2949.99L1249.44,2948.07L1250,2946.15L1250.56,2944.23L1251.13,2942.31L1251.69,2940.39L1252.25,2938.48L1252.82,2936.56L1253.39,2934.64L1253.95,2932.72L1254.52,2930.81L1255.09,2928.89L1255.66,2926.97L1256.23,2925.06L1256.8,2923.14L1257.38,2921.23L1257.95,2919.31L1258.53,2917.4L1259.1,2915.48L1259.68,2913.57L1260.26,2911.66L1260.84,2909.74L1261.42,2907.83L1262,2905.92L1262.58,2904.01L1263.16,2902.09L1263.75,2900.18L1264.33,2898.27L1264.92,2896.36L1265.5,2894.45L1266.09,2892.54L1266.68,2890.63L1267.27,2888.72L1267.86,2886.81L1268.45,2884.9L1269.04,2882.99L1269.63,2881.09L1270.22,2879.18L1270.81,2877.27L1271.4,2875.36L1271.99,2873.45L1272.58,2871.54L1273.17,2869.63L1273.76,2867.73L1274.35,2865.82L1274.94,2863.91L1275.53,2862L1276.12,2860.09L1276.7,2858.18L1277.29,2856.27L1277.88,2854.36L1278.46,2852.45L1279.04,2850.54L1279.62,2848.63L1280.21,2846.72L1280.78,2844.81L1281.36,2842.9L1281.94,2840.99L1282.52,2839.08L1283.09,2837.17L1283.67,2835.26L1284.25,2833.35L1284.82,2831.43L1285.39,2829.52L1285.97,2827.61L1286.54,2825.7L1287.12,2823.79L1287.69,2821.87L1288.27,2819.96L1288.84,2818.05L1289.42,2816.14L1289.99,2814.23L1290.57,2812.32L1291.15,2810.41L1291.72,2808.5L1292.3,2806.59L1292.88,2804.68L1293.46,2802.77L1294.05,2800.86L1294.63,2798.95L1295.21,2797.04L1295.8,2795.14L1296.39,2793.23L1296.98,2791.32L1297.57,2789.42L1298.16,2787.51L1298.75,2785.6L1299.35,2783.7L1299.94,2781.79L1300.54,2779.89L1301.14,2777.98L1301.73,2776.08L1302.33,2774.17L1302.93,2772.27L1303.53,2770.36L1304.12,2768.46L1304.72,2766.55L1305.32,2764.65L1305.91,2762.74L1306.51,2760.84L1307.1,2758.93L1307.7,2757.03L1308.29,2755.12L1308.88,2753.21L1309.47,2751.31L1310.06,2749.4L1310.65,2747.49L1311.24,2745.58L1311.82,2743.67L1312.41,2741.76L1312.99,2739.85L1313.57,2737.94L1314.15,2736.03L1314.73,2734.12L1315.31,2732.2L1315.89,2730.29L1316.46,2728.38L1317.04,2726.46L1317.61,2724.55L1318.18,2722.64L1318.76,2720.72L1319.33,2718.81L1319.9,2716.89L1320.47,2714.98L1321.04,2713.06L1321.6,2711.14L1322.17,2709.23L1322.74,2707.31L1323.3,2705.39L1323.87,2703.48L1324.43,2701.56L1324.99,2699.64L1325.56,2697.72L1326.12,2695.8L1326.68,2693.89L1327.24,2691.97L1327.8,2690.05L1328.36,2688.13L1328.92,2686.21L1329.48,2684.29L1330.04,2682.37L1330.6,2680.45L1331.15,2678.53L1331.71,2676.61L1332.27,2674.69L1332.82,2672.77L1333.38,2670.85L1333.94,2668.93L1334.49,2667.01L1335.05,2665.09L1335.6,2663.17L1336.16,2661.25L1336.72,2659.33L1337.27,2657.41L1337.83,2655.49L1338.38,2653.57L1338.94,2651.65L1339.49,2649.73L1340.05,2647.81L1340.61,2645.89L1341.17,2643.97L1341.73,2642.05L1342.28,2640.13L1342.84,2638.21L1343.41,2636.29L1343.97,2634.37L1344.53,2632.45L1345.1,2630.54L1345.66,2628.62L1346.23,2626.7L1346.8,2624.79L1347.37,2622.87L1347.94,2620.96L1348.51,2619.04L1349.08,2617.13L1349.66,2615.21L1350.24,2613.3L1350.82,2611.39L1351.4,2609.48L1351.98,2607.57L1352.57,2605.66L1353.16,2603.75L1353.75,2601.84L1354.34,2599.93L1354.93,2598.02L1355.53,2596.11L1356.13,2594.21L1356.72,2592.3L1357.32,2590.4L1357.92,2588.49L1358.53,2586.59L1359.13,2584.68L1359.74,2582.78L1360.34,2580.88L1360.95,2578.97L1361.56,2577.07L1362.17,2575.17L1362.78,2573.27L1363.39,2571.37L1364.01,2569.47L1364.62,2567.57L1365.23,2565.67L1365.85,2563.77L1366.46,2561.87L1367.08,2559.97L1367.7,2558.07L1368.31,2556.17L1368.93,2554.27L1369.55,2552.37L1370.17,2550.48L1370.79,2548.58L1371.41,2546.68L1372.03,2544.78L1372.66,2542.89L1373.28,2540.99L1373.91,2539.1L1374.53,2537.2L1375.16,2535.31L1375.79,2533.42L1376.43,2531.52L1377.06,2529.63L1377.7,2527.74L1378.34,2525.85L1378.98,2523.96L1379.62,2522.08L1380.27,2520.19L1380.92,2518.3L1381.58,2516.42L1382.23,2514.54L1382.89,2512.66L1383.55,2510.77L1384.22,2508.9L1384.89,2507.02L1385.57,2505.14L1386.24,2503.27L1386.92,2501.39L1387.61,2499.52L1388.3,2497.65L1388.99,2495.78L1389.69,2493.91L1390.39,2492.04L1391.1,2490.18L1391.8,2488.31L1392.52,2486.45L1393.23,2484.59L1393.95,2482.73L1394.68,2480.87L1395.4,2479.01L1396.13,2477.16L1396.87,2475.3L1397.61,2473.45L1398.35,2471.6L1399.09,2469.74L1399.84,2467.89L1400.59,2466.04L1401.35,2464.2L1402.11,2462.35L1402.87,2460.5L1403.64,2458.66L1404.4,2456.81L1405.18,2454.97L1405.95,2453.13L1406.73,2451.29L1407.52,2449.45L1408.3,2447.61L1409.09,2445.78L1409.89,2443.94L1410.68,2442.1L1411.48,2440.27L1412.29,2438.44L1413.09,2436.6L1413.91,2434.77L1414.72,2432.94L1415.54,2431.11L1416.36,2429.28L1417.18,2427.46L1418.01,2425.63L1418.85,2423.8L1419.68,2421.98L1420.52,2420.15L1421.37,2418.33L1422.22,2416.51L1423.07,2414.69L1423.92,2412.86L1424.78,2411.04L1425.65,2409.22L1426.51,2407.41L1427.38,2405.59L1428.26,2403.77L1429.14,2401.95L1430.02,2400.14L1430.91,2398.32L1431.8,2396.51L1432.7,2394.69L1433.59,2392.88L1434.5,2391.07L1435.41,2389.26L1436.32,2387.44L1437.24,2385.63L1438.16,2383.82L1439.08,2382.02L1440.01,2380.21L1440.95,2378.4L1441.89,2376.59L1442.83,2374.79L1443.78,2372.98L1444.73,2371.18L1445.69,2369.38L1446.65,2367.57L1447.62,2365.77L1448.59,2363.97L1449.57,2362.17L1450.55,2360.37L1451.54,2358.58L1452.53,2356.78L1453.53,2354.98L1454.53,2353.19L1455.54,2351.4L1456.56,2349.6L1457.58,2347.81L1458.6,2346.02L1459.63,2344.23L1460.67,2342.45L1461.72,2340.66L1462.77,2338.88L1463.82,2337.1L1464.89,2335.33L1465.96,2333.55L1467.04,2331.78L1468.13,2330.02L1469.22,2328.26L1470.33,2326.5L1471.44,2324.75L1472.56,2323L1473.69,2321.26L1474.83,2319.52L1475.98,2317.79L1477.14,2316.07L1478.31,2314.35L1479.49,2312.64L1480.68,2310.93L1481.88,2309.24L1483.09,2307.55L1484.32,2305.86L1485.55,2304.19L1486.8,2302.52L1488.06,2300.87L1489.33,2299.22L1490.61,2297.58L1491.9,2295.96L1493.21,2294.34L1494.53,2292.74L1495.86,2291.15L1497.21,2289.58L1498.57,2288.02L1499.94,2286.47L1501.33,2284.94L1502.73,2283.43L1504.14,2281.93L1505.57,2280.45L1507.01,2278.99L1508.46,2277.55L1509.93,2276.12L1511.4,2274.73L1512.9,2273.35L1514.4,2271.99L1515.92,2270.66L1517.45,2269.36L1518.99,2268.08L1520.55,2266.83L1522.12,2265.61L1523.7,2264.42L1525.29,2263.25L1526.89,2262.12L1528.5,2261.02L1530.13,2259.95L1531.77,2258.92L1533.42,2257.92L1535.08,2256.96L1536.75,2256.04L1538.43,2255.15L1540.12,2254.3L1541.82,2253.49L1543.53,2252.72L1545.25,2252L1546.97,2251.32L1548.7,2250.68L1550.44,2250.09L1552.19,2249.54L1553.94,2249.04L1555.69,2248.6L1557.45,2248.2L1559.21,2247.85L1560.98,2247.55L1562.75,2247.31L1564.52,2247.12L1566.29,2246.99L1568.06,2246.91L1569.83,2246.89L1571.61,2246.93L1573.38,2247.02L1575.15,2247.18L1576.92,2247.38L1578.69,2247.65L1580.45,2247.96L1582.21,2248.33L1583.97,2248.75L1585.72,2249.21L1587.47,2249.73L1589.21,2250.29L1590.95,2250.9L1592.68,2251.55L1594.41,2252.24L1596.12,2252.98L1597.83,2253.76L1599.53,2254.58L1601.23,2255.43L1602.91,2256.33L1604.59,2257.25L1606.25,2258.22L1607.91,2259.22L1609.55,2260.25L1611.18,2261.31L1612.8,2262.4L1614.42,2263.53L1616.02,2264.68L1617.6,2265.86L1619.18,2267.07L1620.75,2268.31L1622.3,2269.58L1623.84,2270.86L1625.37,2272.18L1626.89,2273.52L1628.4,2274.88L1629.89,2276.26L1631.37,2277.66L1632.84,2279.09L1634.29,2280.53L1635.74,2281.99L1637.17,2283.47L1638.58,2284.97L1639.98,2286.49L1641.37,2288.02L1642.74,2289.56L1644.11,2291.12L1645.45,2292.69L1646.79,2294.28L1648.11,2295.88L1649.41,2297.49L1650.71,2299.11L1651.99,2300.75L1653.26,2302.4L1654.52,2304.05L1655.76,2305.72L1657,2307.4L1658.22,2309.09L1659.42,2310.79L1660.62,2312.5L1661.81,2314.22L1662.98,2315.95L1664.14,2317.68L1665.29,2319.42L1666.43,2321.17L1667.56,2322.92L1668.68,2324.69L1669.79,2326.45L1670.89,2328.23L1671.98,2330.01L1673.05,2331.79L1674.12,2333.58L1675.18,2335.37L1676.22,2337.17L1677.26,2338.97L1678.29,2340.77L1679.31,2342.57L1680.32,2344.38L1681.32,2346.2L1682.31,2348.01L1683.3,2349.83L1684.27,2351.65L1685.24,2353.48L1686.2,2355.3L1687.15,2357.13L1688.1,2358.96L1689.04,2360.8L1689.97,2362.63L1690.89,2364.47L1691.81,2366.31L1692.72,2368.15L1693.62,2370L1694.52,2371.84L1695.41,2373.69L1696.29,2375.54L1697.17,2377.39L1698.04,2379.24L1698.91,2381.09L1699.78,2382.95L1700.63,2384.8L1701.49,2386.66L1702.34,2388.51L1703.18,2390.37L1704.02,2392.23L1704.86,2394.08L1705.69,2395.94L1706.52,2397.8L1707.34,2399.66L1708.16,2401.52L1708.98,2403.37L1709.8,2405.23L1710.61,2407.09L1711.42,2408.95L1712.23,2410.8L1713.03,2412.66L1713.83,2414.52L1714.63,2416.38L1715.42,2418.23L1716.22,2420.09L1717.01,2421.95L1717.79,2423.8L1718.58,2425.66L1719.36,2427.52L1720.14,2429.38L1720.92,2431.23L1721.7,2433.09L1722.47,2434.95L1723.24,2436.8L1724.01,2438.66L1724.78,2440.52L1725.54,2442.38L1726.31,2444.23L1727.07,2446.09L1727.83,2447.95L1728.58,2449.81L1729.34,2451.67L1730.09,2453.52L1730.85,2455.38L1731.6,2457.24L1732.35,2459.1L1733.09,2460.96L1733.84,2462.82L1734.58,2464.68L1735.33,2466.54L1736.07,2468.4L1736.81,2470.26L1737.55,2472.12L1738.29,2473.98L1739.03,2475.84L1739.76,2477.7L1740.5,2479.56L1741.23,2481.42L1741.97,2483.29L1742.7,2485.15L1743.43,2487.01L1744.16,2488.88L1744.89,2490.74L1745.61,2492.6L1746.34,2494.47L1747.06,2496.34L1747.78,2498.2L1748.5,2500.07L1749.22,2501.93L1749.94,2503.8L1750.66,2505.67L1751.37,2507.54L1752.08,2509.41L1752.79,2511.28L1753.5,2513.15L1754.2,2515.02L1754.91,2516.89L1755.61,2518.77L1756.31,2520.64L1757,2522.51L1757.7,2524.39L1758.39,2526.26L1759.08,2528.14L1759.77,2530.02L1760.45,2531.9L1761.13,2533.78L1761.81,2535.66L1762.49,2537.54L1763.16,2539.42L1763.83,2541.3L1764.5,2543.19L1765.17,2545.07L1765.83,2546.96L1766.49,2548.84L1767.15,2550.73L1767.8,2552.62L1768.45,2554.51L1769.1,2556.4L1769.74,2558.3L1770.38,2560.19L1771.02,2562.08L1771.66,2563.98L1772.29,2565.87L1772.92,2567.77L1773.55,2569.67L1774.17,2571.57L1774.79,2573.47L1775.41,2575.37L1776.03,2577.27L1776.64,2579.17L1777.25,2581.08L1777.86,2582.98L1778.47,2584.89L1779.07,2586.79L1779.67,2588.7L1780.27,2590.61L1780.87,2592.51L1781.46,2594.42L1782.05,2596.33L1782.64,2598.24L1783.23,2600.16L1783.82,2602.07L1784.4,2603.98L1784.98,2605.89L1785.56,2607.81L1786.13,2609.72L1786.71,2611.64L1787.28,2613.55L1787.85,2615.47L1788.42,2617.39L1788.99,2619.3L1789.56,2621.22L1790.12,2623.14L1790.68,2625.06L1791.25,2626.98L1791.81,2628.9L1792.37,2630.82L1792.93,2632.74L1793.48,2634.66L1794.04,2636.58L1794.59,2638.5L1795.15,2640.42L1795.7,2642.35L1796.26,2644.27L1796.81,2646.19L1797.36,2648.11L1797.91,2650.04L1798.46,2651.96L1799.01,2653.88L1799.56,2655.81L1800.11,2657.73L1800.66,2659.65L1801.21,2661.57L1801.76,2663.5L1802.31,2665.42L1802.86,2667.34L1803.41,2669.27L1803.96,2671.19L1804.51,2673.11L1805.06,2675.04L1805.61,2676.96L1806.16,2678.88L1806.71,2680.81L1807.26,2682.73L1807.81,2684.65L1808.36,2686.58L1808.91,2688.5L1809.46,2690.42L1810.01,2692.35L1810.56,2694.27L1811.11,2696.19L1811.66,2698.12L1812.22,2700.04L1812.77,2701.96L1813.32,2703.88L1813.87,2705.81L1814.42,2707.73L1814.97,2709.65L1815.53,2711.58L1816.08,2713.5L1816.63,2715.42L1817.18,2717.34L1817.74,2719.26L1818.29,2721.19L1818.85,2723.11L1819.4,2725.03L1819.95,2726.95L1820.51,2728.87L1821.06,2730.8L1821.62,2732.72L1822.18,2734.64L1822.73,2736.56L1823.29,2738.48L1823.84,2740.4L1824.4,2742.32L1824.96,2744.25L1825.52,2746.17L1826.07,2748.09L1826.63,2750.01L1827.19,2751.93L1827.75,2753.85L1828.31,2755.77L1828.87,2757.69L1829.43,2759.61L1829.99,2761.53L1830.55,2763.45L1831.11,2765.37L1831.68,2767.29L1832.24,2769.21L1832.8,2771.13L1833.37,2773.05L1833.93,2774.96L1834.49,2776.88L1835.06,2778.8L1835.62,2780.72L1836.19,2782.64L1836.75,2784.56L1837.32,2786.48L1837.89,2788.39L1838.46,2790.31L1839.02,2792.23L1839.59,2794.15L1840.16,2796.06L1840.73,2797.98L1841.3,2799.9L1841.87,2801.82L1842.44,2803.73L1843.02,2805.65L1843.59,2807.56L1844.16,2809.48L1844.74,2811.4L1845.31,2813.31L1845.89,2815.23L1846.46,2817.14L1847.04,2819.06L1847.62,2820.97L1848.2,2822.89L1848.78,2824.8L1849.36,2826.71L1849.94,2828.63L1850.52,2830.54L1851.1,2832.46L1851.68,2834.37L1852.27,2836.28L1852.85,2838.19L1853.44,2840.11L1854.02,2842.02L1854.61,2843.93L1855.2,2845.84L1855.79,2847.75L1856.38,2849.66L1856.97,2851.57L1857.56,2853.48L1858.15,2855.39L1858.74,2857.3L1859.34,2859.21L1859.93,2861.12L1860.53,2863.03L1861.12,2864.94L1861.72,2866.85L1862.32,2868.76L1862.91,2870.67L1863.51,2872.58L1864.11,2874.48L1864.71,2876.39L1865.31,2878.3L1865.92,2880.21L1866.52,2882.11L1867.12,2884.02L1867.72,2885.93L1868.33,2887.83L1868.93,2889.74L1869.54,2891.64L1870.15,2893.55L1870.75,2895.45L1871.36,2897.36L1871.97,2899.26L1872.58,2901.17L1873.19,2903.07L1873.8,2904.98L1874.41,2906.88L1875.02,2908.79L1875.63,2910.69L1876.24,2912.59L1876.85,2914.5L1877.47,2916.4L1878.08,2918.3L1878.69,2920.21L1879.31,2922.11L1879.92,2924.01L1880.53,2925.92L1881.15,2927.82L1881.76,2929.72L1882.38,2931.62L1882.99,2933.52L1883.61,2935.43L1884.22,2937.33L1884.84,2939.23L1885.45,2941.13L1886.07,2943.04L1886.68,2944.94L1887.3,2946.84L1887.91,2948.74L1888.53,2950.64L1889.14,2952.55L1889.76,2954.45L1890.37,2956.35L1890.98,2958.25L1891.6,2960.16L1892.21,2962.06L1892.82,2963.96L1893.43,2965.86L1894.04,2967.77L1894.65,2969.67L1895.26,2971.58L1895.86,2973.48L1896.47,2975.39L1897.07,2977.29L1897.67,2979.2L1898.28,2981.1L1898.88,2983.01L1899.47,2984.92L1900.07,2986.82L1900.67,2988.73L1901.26,2990.64L1901.86,2992.55L1902.45,2994.46L1903.04,2996.37L1903.64,2998.27L1904.23,3000.18L1904.82,3002.09L1905.41,3004L1906,3005.91L1906.59,3007.82L1907.18,3009.73L1907.77,3011.64L1908.37,3013.55L1908.96,3015.46L1909.55,3017.36L1910.14,3019.27L1910.74,3021.18L1911.33,3023.09L1911.93,3025L1912.53,3026.9L1913.13,3028.81L1913.73,3030.71L1914.33,3032.62L1914.93,3034.52L1915.54,3036.43L1916.15,3038.33L1916.76,3040.23L1917.37,3042.14L1917.99,3044.04L1918.61,3045.93L1919.23,3047.83L1919.86,3049.73L1920.49,3051.63L1921.12,3053.52L1921.76,3055.41L1922.41,3057.31L1923.05,3059.2L1923.71,3061.08L1924.37,3062.97L1925.03,3064.86L1925.7,3066.74L1926.37,3068.62L1927.05,3070.5L1927.74,3072.38L1928.43,3074.25L1929.13,3076.13L1929.84,3078L1930.56,3079.87L1931.28,3081.73L1932.01,3083.59L1932.75,3085.45L1933.5,3087.31L1934.26,3089.17L1935.03,3091.02L1935.81,3092.87L1936.6,3094.71L1937.4,3096.55L1938.22,3098.39L1939.04,3100.22L1939.88,3102.05L1940.73,3103.88L1941.59,3105.7L1942.46,3107.52L1943.35,3109.33L1944.25,3111.14L1945.17,3112.94L1946.1,3114.74L1947.05,3116.54L1948.02,3118.33L1949,3120.11L1950,3121.89L1951.01,3123.67L1952.04,3125.43L1953.09,3127.2L1954.16,3128.95L1955.25,3130.7L1956.36,3132.45L1957.49,3134.18L1958.65,3135.9L1959.83,3137.6L1961.05,3139.26L1962.29,3140.89L1963.58,3142.48L1964.9,3144.02L1966.27,3145.5L1967.69,3146.92L1969.15,3148.27L1970.67,3149.54L1972.24,3150.73L1973.86,3151.83L1975.53,3152.83L1977.23,3153.72L1978.97,3154.49L1980.74,3155.14L1982.52,3155.65L1984.33,3156.01L1986.15,3156.22L1987.97,3156.28L1989.79,3156.16L1991.61,3155.89L1993.41,3155.46L1995.2,3154.9L1996.97,3154.21L1998.71,3153.39L2000.43,3152.47L2002.1,3151.44L2003.73,3150.32L2005.32,3149.11L2006.85,3147.84L2008.34,3146.49L2009.79,3145.08L2011.19,3143.61L2012.55,3142.09L2013.87,3140.52L2015.16,3138.92L2016.41,3137.28L2017.63,3135.62L2018.81,3133.94L2019.97,3132.24L2021.1,3130.53L2022.21,3128.81L2023.29,3127.08L2024.34,3125.34L2025.37,3123.58L2026.38,3121.82L2027.36,3120.05L2028.32,3118.28L2029.26,3116.49L2030.18,3114.69L2031.09,3112.89L2031.97,3111.08L2032.84,3109.26L2033.68,3107.44L2034.52,3105.61L2035.33,3103.77L2036.14,3101.93L2036.92,3100.08L2037.7,3098.23L2038.46,3096.37L2039.21,3094.51L2039.95,3092.64L2040.67,3090.77L2041.39,3088.89L2042.1,3087.01L2042.79,3085.13L2043.48,3083.24L2044.15,3081.35L2044.82,3079.46L2045.48,3077.57L2046.13,3075.67L2046.78,3073.77L2047.42,3071.86L2048.05,3069.96L2048.68,3068.05L2049.31,3066.14L2049.92,3064.23L2050.54,3062.32L2051.15,3060.4L2051.76,3058.49L2052.36,3056.58L2052.97,3054.66L2053.56,3052.74L2054.16,3050.83L2054.75,3048.91L2055.34,3046.99L2055.93,3045.07L2056.52,3043.15L2057.1,3041.23L2057.69,3039.3L2058.27,3037.38L2058.85,3035.46L2059.42,3033.54L2060,3031.62L2060.58,3029.69L2061.15,3027.77L2061.73,3025.85L2062.3,3023.92L2062.87,3022L2063.45,3020.08L2064.02,3018.16L2064.59,3016.23L2065.17,3014.31L2065.74,3012.39L2066.31,3010.47L2066.88,3008.55L2067.46,3006.62L2068.03,3004.7L2068.6,3002.78L2069.17,3000.86L2069.75,2998.94L2070.32,2997.02L2070.89,2995.1L2071.47,2993.18L2072.04,2991.26L2072.62,2989.34L2073.19,2987.42L2073.77,2985.5L2074.34,2983.59L2074.92,2981.67L2075.5,2979.75L2076.07,2977.83L2076.65,2975.92L2077.23,2974L2077.81,2972.08L2078.39,2970.17L2078.97,2968.25L2079.55,2966.34L2080.14,2964.42L2080.72,2962.51L2081.3,2960.59L2081.88,2958.68L2082.47,2956.76L2083.05,2954.85L2083.64,2952.94L2084.22,2951.02L2084.81,2949.11L2085.39,2947.2L2085.98,2945.29L2086.57,2943.37L2087.15,2941.46L2087.74,2939.55L2088.33,2937.64L2088.92,2935.72L2089.51,2933.81L2090.09,2931.9L2090.68,2929.99L2091.27,2928.08L2091.86,2926.17L2092.45,2924.26L2093.04,2922.34L2093.62,2920.43L2094.21,2918.52L2094.8,2916.61L2095.39,2914.7L2095.98,2912.79L2096.56,2910.88L2097.15,2908.97L2097.74,2907.06L2098.32,2905.14L2098.91,2903.23L2099.49,2901.32L2100.08,2899.41L2100.66,2897.5L2101.25,2895.58L2101.83,2893.67L2102.41,2891.76L2102.99,2889.85L2103.57,2887.93L2104.15,2886.02L2104.73,2884.1L2105.3,2882.19L2105.88,2880.28L2106.45,2878.36L2107.03,2876.45L2107.6,2874.53L2108.17,2872.62L2108.75,2870.7L2109.32,2868.78L2109.89,2866.87L2110.46,2864.95L2111.03,2863.04L2111.59,2861.12L2112.16,2859.2L2112.73,2857.28L2113.3,2855.37L2113.86,2853.45L2114.43,2851.53L2114.99,2849.61L2115.56,2847.7L2116.12,2845.78L2116.68,2843.86L2117.25,2841.94L2117.81,2840.02L2118.37,2838.11L2118.94,2836.19L2119.5,2834.27L2120.06,2832.35L2120.63,2830.43L2121.19,2828.51L2121.76,2826.6L2122.32,2824.68L2122.88,2822.76L2123.45,2820.84L2124.01,2818.92L2124.58,2817L2125.14,2815.09L2125.7,2813.17L2126.27,2811.25L2126.83,2809.33L2127.4,2807.41L2127.96,2805.49L2128.52,2803.58L2129.09,2801.66L2129.65,2799.74L2130.21,2797.82L2130.77,2795.9L2131.34,2793.98L2131.9,2792.06L2132.46,2790.14L2133.02,2788.22L2133.58,2786.31L2134.14,2784.39L2134.7,2782.47L2135.26,2780.55L2135.82,2778.63L2136.37,2776.7L2136.93,2774.78L2137.49,2772.86L2138.04,2770.94L2138.6,2769.02L2139.15,2767.1L2139.7,2765.18L2140.26,2763.26L2140.81,2761.33L2141.36,2759.41L2141.91,2757.49L2142.46,2755.57L2143.01,2753.64L2143.56,2751.72L2144.11,2749.8L2144.65,2747.87L2145.2,2745.95L2145.74,2744.03L2146.29,2742.1L2146.83,2740.18L2147.38,2738.25L2147.92,2736.33L2148.46,2734.4L2149,2732.48L2149.54,2730.55L2150.08,2728.63L2150.62,2726.7L2151.16,2724.78L2151.7,2722.85L2152.24,2720.93L2152.78,2719L2153.32,2717.07L2153.86,2715.15L2154.4,2713.22L2154.94,2711.3L2155.48,2709.37L2156.02,2707.45L2156.56,2705.52L2157.11,2703.59L2157.65,2701.67L2158.19,2699.74L2158.73,2697.82L2159.28,2695.89L2159.82,2693.97L2160.37,2692.05L2160.91,2690.12L2161.46,2688.2L2162,2686.27L2162.55,2684.35L2163.1,2682.43L2163.65,2680.5L2164.2,2678.58L2164.75,2676.66L2165.3,2674.74L2165.86,2672.81L2166.41,2670.89L2166.96,2668.97L2167.52,2667.05L2168.07,2665.13L2168.63,2663.21L2169.19,2661.29L2169.75,2659.37L2170.31,2657.45L2170.87,2655.53L2171.43,2653.61L2171.99,2651.69L2172.56,2649.77L2173.12,2647.85L2173.69,2645.93L2174.26,2644.02L2174.83,2642.1L2175.4,2640.18L2175.97,2638.27L2176.55,2636.35L2177.12,2634.44L2177.7,2632.52L2178.28,2630.61L2178.86,2628.69L2179.44,2626.78L2180.02,2624.87L2180.6,2622.96L2181.19,2621.05L2181.78,2619.13L2182.37,2617.22L2182.96,2615.32L2183.55,2613.41L2184.15,2611.5L2184.75,2609.59L2185.35,2607.68L2185.95,2605.78L2186.55,2603.87L2187.16,2601.97L2187.76,2600.06L2188.37,2598.16L2188.99,2596.26L2189.6,2594.36L2190.22,2592.46L2190.84,2590.56L2191.46,2588.66L2192.08,2586.76L2192.71,2584.86L2193.34,2582.96L2193.97,2581.07L2194.6,2579.17L2195.23,2577.28L2195.87,2575.39L2196.51,2573.49L2197.16,2571.6L2197.8,2569.71L2198.45,2567.82L2199.1,2565.93L2199.76,2564.05L2200.41,2562.16L2201.07,2560.27L2201.73,2558.39L2202.4,2556.5L2203.06,2554.62L2203.73,2552.74L2204.41,2550.86L2205.08,2548.98L2205.76,2547.1L2206.44,2545.22L2207.13,2543.34L2207.82,2541.47L2208.51,2539.59L2209.2,2537.72L2209.9,2535.85L2210.6,2533.98L2211.3,2532.11L2212,2530.24L2212.71,2528.37L2213.42,2526.5L2214.14,2524.63L2214.85,2522.77L2215.57,2520.9L2216.29,2519.04L2217.01,2517.17L2217.74,2515.31L2218.46,2513.45L2219.19,2511.58L2219.92,2509.72L2220.65,2507.86L2221.38,2506L2222.11,2504.14L2222.84,2502.28L2223.58,2500.42L2224.32,2498.56L2225.05,2496.7L2225.79,2494.84L2226.53,2492.98L2227.27,2491.12L2228.01,2489.26L2228.75,2487.4L2229.49,2485.54L2230.23,2483.69L2230.98,2481.83L2231.72,2479.97L2232.47,2478.11L2233.21,2476.25L2233.96,2474.39L2234.7,2472.54L2235.45,2470.68L2236.2,2468.82L2236.95,2466.96L2237.7,2465.1L2238.45,2463.25L2239.2,2461.39L2239.95,2459.53L2240.7,2457.67L2241.46,2455.82L2242.21,2453.96L2242.97,2452.1L2243.72,2450.25L2244.48,2448.39L2245.24,2446.54L2246,2444.68L2246.76,2442.83L2247.52,2440.97L2248.29,2439.12L2249.06,2437.26L2249.82,2435.41L2250.59,2433.56L2251.36,2431.71L2252.14,2429.86L2252.91,2428.01L2253.69,2426.16L2254.47,2424.31L2255.26,2422.46L2256.04,2420.61L2256.83,2418.77L2257.62,2416.92L2258.42,2415.08L2259.21,2413.24L2260.02,2411.4L2260.82,2409.56L2261.63,2407.72L2262.44,2405.89L2263.25,2404.05L2264.07,2402.22L2264.9,2400.39L2265.72,2398.56L2266.55,2396.73L2267.39,2394.91L2268.23,2393.09L2269.07,2391.27L2269.92,2389.45L2270.77,2387.63L2271.63,2385.82L2272.49,2384.01L2273.36,2382.2L2274.23,2380.39L2275.11,2378.59L2275.99,2376.79L2276.88,2374.99L2277.77,2373.2L2278.67,2371.4L2279.57,2369.62L2280.48,2367.83L2281.4,2366.05L2282.32,2364.27L2283.25,2362.5L2284.18,2360.73L2285.12,2358.97L2286.07,2357.2L2287.03,2355.45L2287.99,2353.7L2288.96,2351.95L2289.94,2350.21L2290.92,2348.47L2291.91,2346.74L2292.91,2345.01L2293.92,2343.29L2294.94,2341.58L2295.97,2339.87L2297,2338.17L2298.05,2336.48L2299.1,2334.79L2300.17,2333.11L2301.24,2331.43L2302.33,2329.76L2303.42,2328.11L2304.53,2326.46L2305.65,2324.81L2306.78,2323.18L2307.92,2321.56L2309.07,2319.94L2310.24,2318.33L2311.42,2316.74L2312.61,2315.15L2313.81,2313.58L2315.03,2312.01L2316.26,2310.46L2317.51,2308.91L2318.76,2307.37L2320.02,2305.83L2321.28,2304.3L2322.55,2302.78L2323.19,2302.01" fill="none" stroke="#0061a0" stroke-width="6" stroke-linejoin="round"/>
<path d="M362.5,3394.7L541.17,3394.7L543.09,3395.29L545,3395.88L546.92,3396.47L548.84,3397.06L550.76,3397.64L552.69,3398.23L554.62,3398.81L556.57,3399.4L558.52,3399.98L560.48,3400.56L562.45,3401.14L564.43,3401.71L566.41,3402.26L568.4,3402.77L570.39,3403.25L572.38,3403.67L574.36,3404.03L576.34,3404.32L578.31,3404.53L580.26,3404.65L582.21,3404.66L584.13,3404.56L586.04,3404.34L587.93,3403.98L589.8,3403.49L591.64,3402.88L593.45,3402.15L595.24,3401.32L596.99,3400.39L598.72,3399.37L600.41,3398.27L602.07,3397.1L603.7,3395.86L605.28,3394.57L606.83,3393.23L608.34,3391.85L609.81,3390.45L611.23,3389.01L612.62,3387.54L613.97,3386.05L615.29,3384.53L616.57,3382.99L617.83,3381.42L619.05,3379.84L620.25,3378.23L621.42,3376.61L622.57,3374.96L623.7,3373.31L624.81,3371.63L625.9,3369.95L626.98,3368.25L628.04,3366.54L629.09,3364.82L630.13,3363.09L631.16,3361.35L632.19,3359.61L633.21,3357.87L634.22,3356.12L635.24,3354.37L636.26,3352.62L637.28,3350.87L638.3,3349.12L639.34,3347.37L640.38,3345.63L641.43,3343.9L642.49,3342.17L643.57,3340.46L644.67,3338.75L645.78,3337.07L646.92,3335.39L648.07,3333.74L649.26,3332.11L650.47,3330.49L651.71,3328.9L652.98,3327.34L654.28,3325.8L655.62,3324.3L656.99,3322.82L658.41,3321.38L659.86,3319.97L661.36,3318.6L662.91,3317.27L664.5,3315.98L666.14,3314.73L667.83,3313.53L669.56,3312.39L671.33,3311.32L673.13,3310.33L674.96,3309.42L676.81,3308.61L678.68,3307.9L680.57,3307.31L682.47,3306.84L684.37,3306.5L686.27,3306.3L688.17,3306.26L690.06,3306.37L691.93,3306.64L693.8,3307.06L695.65,3307.6L697.48,3308.28L699.29,3309.07L701.08,3309.97L702.85,3310.96L704.59,3312.05L706.31,3313.21L707.99,3314.44L709.64,3315.73L711.27,3317.06L712.85,3318.44L714.4,3319.85L715.91,3321.28L717.37,3322.72L718.8,3324.17L720.19,3325.63L721.54,3327.09L722.85,3328.56L724.13,3330.05L725.39,3331.54L726.62,3333.04L727.82,3334.56L729,3336.08L730.16,3337.62L731.3,3339.17L732.43,3340.74L733.54,3342.32L734.64,3343.92L735.74,3345.54L736.83,3347.17L737.92,3348.81L739,3350.48L740.09,3352.17L741.18,3353.87L742.28,3355.6L743.38,3357.34L744.5,3359.11L745.63,3360.9L746.77,3362.72L747.94,3364.55L749.12,3366.41L750.33,3368.3L751.56,3370.21L752.82,3372.15L754.11,3374.1L755.42,3376.06L756.75,3378.02L758.11,3379.97L759.49,3381.89L760.89,3383.79L762.3,3385.64L763.74,3387.45L765.19,3389.19L766.66,3390.86L768.14,3392.46L769.63,3393.96L771.13,3395.37L772.65,3396.67L774.17,3397.85L775.7,3398.9L777.24,3399.82L778.78,3400.59L780.32,3401.21L781.87,3401.65L783.42,3401.93L784.96,3402.01L786.51,3401.91L788.05,3401.6L789.59,3401.11L791.13,3400.44L792.66,3399.61L794.18,3398.64L795.7,3397.52L797.2,3396.28L798.7,3394.93L800.19,3393.47L801.66,3391.94L803.13,3390.32L804.58,3388.65L806.01,3386.92L807.43,3385.16L808.83,3383.38L810.22,3381.58L811.59,3379.78L812.93,3378L814.26,3376.24L815.57,3374.49L816.87,3372.76L818.14,3371.04L819.4,3369.34L820.65,3367.66L821.88,3365.98L823.1,3364.32L824.3,3362.67L825.5,3361.04L826.68,3359.41L827.85,3357.79L829.02,3356.18L830.17,3354.58L831.32,3352.98L832.46,3351.39L833.6,3349.81L834.73,3348.22L835.86,3346.65L836.98,3345.07L838.1,3343.5L839.22,3341.93L840.34,3340.35L841.46,3338.78L842.58,3337.21L843.71,3335.63L844.83,3334.05L845.96,3332.47L847.09,3330.88L848.23,3329.28L849.38,3327.68L850.52,3326.08L851.68,3324.47L852.83,3322.86L853.99,3321.24L855.16,3319.62L856.32,3318L857.49,3316.38L858.66,3314.75L859.84,3313.12L861.02,3311.49L862.2,3309.86L863.38,3308.23L864.56,3306.6L865.74,3304.97L866.93,3303.34L868.11,3301.71L869.3,3300.08L870.48,3298.45L871.66,3296.83L872.85,3295.21L874.03,3293.59L875.21,3291.98L876.39,3290.36L877.57,3288.76L878.75,3287.16L879.92,3285.56L881.09,3283.97L882.26,3282.38L883.43,3280.8L884.6,3279.22L885.76,3277.65L886.93,3276.09L888.09,3274.52L889.26,3272.96L890.44,3271.41L891.61,3269.85L892.8,3268.3L893.99,3266.75L895.18,3265.19L896.39,3263.64L897.6,3262.09L898.83,3260.54L900.06,3258.98L901.31,3257.43L902.57,3255.87L903.85,3254.3L905.14,3252.74L906.45,3251.17L907.77,3249.6L909.11,3248.02L910.48,3246.43L911.86,3244.84L913.26,3243.25L914.68,3241.64L916.13,3240.03L917.6,3238.41L919.09,3236.79L920.61,3235.18L922.15,3233.58L923.7,3232.01L925.28,3230.46L926.88,3228.96L928.49,3227.5L930.12,3226.09L931.76,3224.75L933.42,3223.48L935.09,3222.28L936.78,3221.18L938.48,3220.17L940.18,3219.26L941.9,3218.46L943.63,3217.78L945.36,3217.22L947.1,3216.8L948.85,3216.53L950.6,3216.4L952.35,3216.43L954.11,3216.62L955.86,3216.95L957.62,3217.42L959.37,3218.02L961.11,3218.75L962.85,3219.59L964.57,3220.54L966.29,3221.59L967.98,3222.74L969.67,3223.97L971.33,3225.27L972.97,3226.65L974.59,3228.09L976.18,3229.58L977.75,3231.12L979.29,3232.7L980.8,3234.3L982.27,3235.94L983.71,3237.58L985.11,3239.24L986.47,3240.9L987.79,3242.55L989.08,3244.2L990.34,3245.85L991.56,3247.5L992.76,3249.14L993.93,3250.79L995.09,3252.43L996.22,3254.07L997.34,3255.71L998.45,3257.34L999.54,3258.98L1000.63,3260.61L1001.72,3262.24L1002.8,3263.87L1003.89,3265.5L1004.98,3267.13L1006.08,3268.75L1007.18,3270.38L1008.3,3272L1009.44,3273.63L1010.6,3275.25L1011.77,3276.87L1012.97,3278.49L1014.2,3280.11L1015.46,3281.73L1016.75,3283.35L1018.07,3284.97L1019.44,3286.59L1020.84,3288.21L1022.29,3289.82L1023.78,3291.42L1025.31,3293L1026.87,3294.54L1028.45,3296.04L1030.07,3297.48L1031.71,3298.85L1033.37,3300.15L1035.04,3301.36L1036.74,3302.46L1038.44,3303.46L1040.15,3304.33L1041.86,3305.08L1043.58,3305.68L1045.29,3306.12L1047,3306.41L1048.69,3306.51L1050.38,3306.44L1052.06,3306.19L1053.72,3305.77L1055.37,3305.19L1057,3304.47L1058.62,3303.6L1060.23,3302.61L1061.81,3301.49L1063.38,3300.26L1064.93,3298.92L1066.46,3297.49L1067.97,3295.97L1069.46,3294.37L1070.92,3292.7L1072.37,3290.97L1073.79,3289.18L1075.19,3287.36L1076.56,3285.5L1077.91,3283.61L1079.23,3281.71L1080.52,3279.8L1081.78,3277.89L1083.02,3275.98L1084.23,3274.08L1085.42,3272.19L1086.6,3270.3L1087.75,3268.43L1088.88,3266.56L1090.01,3264.71L1091.12,3262.87L1092.22,3261.04L1093.32,3259.23L1094.41,3257.44L1095.5,3255.66L1096.58,3253.91L1097.67,3252.18L1098.77,3250.46L1099.87,3248.77L1100.97,3247.11L1102.09,3245.47L1103.22,3243.86L1104.37,3242.28L1105.53,3240.72L1106.72,3239.2L1107.92,3237.71L1109.15,3236.25L1110.4,3234.83L1111.69,3233.44L1113,3232.09L1114.34,3230.78L1115.72,3229.51L1117.14,3228.28L1118.6,3227.09L1120.1,3225.94L1121.64,3224.84L1123.23,3223.79L1124.86,3222.78L1126.54,3221.82L1128.27,3220.9L1130.03,3220.01L1131.81,3219.14L1133.62,3218.28L1135.43,3217.43L1137.25,3216.58L1139.07,3215.71L1140.87,3214.81L1142.65,3213.89L1144.4,3212.93L1146.12,3211.92L1147.79,3210.86L1149.41,3209.73L1150.98,3208.52L1152.48,3207.25L1153.93,3205.9L1155.34,3204.5L1156.7,3203.05L1158.03,3201.57L1159.33,3200.05L1160.61,3198.5L1161.87,3196.94L1163.12,3195.37L1164.36,3193.79L1165.58,3192.21L1166.8,3190.61L1168,3189L1169.19,3187.39L1170.37,3185.77L1171.54,3184.14L1172.7,3182.5L1173.86,3180.86L1175,3179.21L1176.13,3177.56L1177.26,3175.9L1178.38,3174.23L1179.48,3172.57L1180.59,3170.89L1181.68,3169.22L1182.76,3167.53L1183.84,3165.85L1184.91,3164.16L1185.97,3162.46L1187.03,3160.76L1188.08,3159.06L1189.12,3157.35L1190.15,3155.64L1191.18,3153.92L1192.2,3152.2L1193.21,3150.48L1194.22,3148.75L1195.22,3147.02L1196.21,3145.28L1197.19,3143.54L1198.17,3141.8L1199.15,3140.06L1200.12,3138.31L1201.08,3136.55L1202.03,3134.8L1202.99,3133.04L1203.93,3131.28L1204.87,3129.52L1205.8,3127.75L1206.73,3125.98L1207.65,3124.2L1208.57,3122.43L1209.48,3120.65L1210.39,3118.87L1211.29,3117.08L1212.18,3115.3L1213.07,3113.51L1213.96,3111.71L1214.84,3109.92L1215.71,3108.12L1216.58,3106.32L1217.45,3104.52L1218.31,3102.71L1219.16,3100.91L1220.01,3099.1L1220.86,3097.29L1221.7,3095.47L1222.53,3093.65L1223.36,3091.84L1224.19,3090.02L1225.01,3088.19L1225.83,3086.37L1226.64,3084.54L1227.45,3082.71L1228.25,3080.88L1229.05,3079.05L1229.85,3077.21L1230.64,3075.37L1231.42,3073.54L1232.21,3071.7L1232.98,3069.85L1233.76,3068.01L1234.53,3066.16L1235.3,3064.32L1236.06,3062.47L1236.82,3060.62L1237.58,3058.76L1238.33,3056.91L1239.08,3055.06L1239.82,3053.2L1240.56,3051.34L1241.3,3049.48L1242.04,3047.62L1242.77,3045.76L1243.5,3043.89L1244.23,3042.03L1244.95,3040.16L1245.67,3038.3L1246.39,3036.43L1247.1,3034.56L1247.81,3032.69L1248.52,3030.82L1249.23,3028.94L1249.93,3027.07L1250.64,3025.2L1251.33,3023.32L1252.03,3021.45L1252.73,3019.57L1253.42,3017.69L1254.11,3015.81L1254.8,3013.93L1255.48,3012.05L1256.17,3010.17L1256.85,3008.29L1257.53,3006.41L1258.21,3004.52L1258.89,3002.64L1259.57,3000.76L1260.24,2998.87L1260.91,2996.99L1261.59,2995.1L1262.26,2993.22L1262.93,2991.33L1263.59,2989.44L1264.26,2987.56L1264.93,2985.67L1265.59,2983.78L1266.26,2981.89L1266.92,2980.01L1267.58,2978.12L1268.25,2976.23L1268.91,2974.34L1269.57,2972.45L1270.23,2970.56L1270.89,2968.67L1271.55,2966.78L1272.21,2964.89L1272.87,2963L1273.53,2961.11L1274.19,2959.22L1274.85,2957.34L1275.51,2955.45L1276.18,2953.56L1276.84,2951.67L1277.5,2949.78L1278.16,2947.89L1278.82,2946L1279.48,2944.11L1280.15,2942.23L1280.81,2940.34L1281.48,2938.45L1282.14,2936.56L1282.81,2934.68L1283.48,2932.79L1284.14,2930.91L1284.81,2929.02L1285.48,2927.13L1286.15,2925.25L1286.82,2923.36L1287.49,2921.48L1288.16,2919.59L1288.84,2917.71L1289.51,2915.83L1290.18,2913.94L1290.86,2912.06L1291.54,2910.18L1292.21,2908.3L1292.89,2906.41L1293.57,2904.53L1294.25,2902.65L1294.93,2900.77L1295.61,2898.89L1296.29,2897.01L1296.97,2895.13L1297.66,2893.25L1298.34,2891.37L1299.03,2889.49L1299.71,2887.61L1300.4,2885.73L1301.09,2883.86L1301.78,2881.98L1302.47,2880.1L1303.16,2878.23L1303.85,2876.35L1304.55,2874.47L1305.24,2872.6L1305.94,2870.72L1306.64,2868.85L1307.33,2866.98L1308.03,2865.1L1308.73,2863.23L1309.43,2861.36L1310.13,2859.48L1310.84,2857.61L1311.54,2855.74L1312.25,2853.87L1312.95,2852L1313.66,2850.13L1314.37,2848.26L1315.08,2846.39L1315.79,2844.52L1316.51,2842.65L1317.22,2840.79L1317.93,2838.92L1318.65,2837.05L1319.37,2835.19L1320.09,2833.32L1320.81,2831.46L1321.53,2829.59L1322.25,2827.73L1322.98,2825.86L1323.7,2824L1324.43,2822.14L1325.16,2820.28L1325.89,2818.41L1326.62,2816.55L1327.35,2814.69L1328.09,2812.83L1328.82,2810.97L1329.56,2809.12L1330.3,2807.26L1331.04,2805.4L1331.78,2803.54L1332.52,2801.69L1333.26,2799.83L1334.01,2797.98L1334.76,2796.12L1335.5,2794.27L1336.25,2792.41L1337,2790.56L1337.75,2788.71L1338.5,2786.85L1339.25,2785L1340,2783.15L1340.76,2781.29L1341.51,2779.44L1342.26,2777.59L1343.02,2775.74L1343.77,2773.89L1344.53,2772.04L1345.28,2770.18L1346.04,2768.33L1346.79,2766.48L1347.54,2764.63L1348.3,2762.78L1349.05,2760.92L1349.81,2759.07L1350.56,2757.22L1351.31,2755.37L1352.07,2753.51L1352.82,2751.66L1353.57,2749.81L1354.32,2747.96L1355.07,2746.1L1355.82,2744.25L1356.57,2742.39L1357.31,2740.54L1358.06,2738.68L1358.81,2736.83L1359.55,2734.97L1360.3,2733.12L1361.04,2731.26L1361.79,2729.4L1362.53,2727.55L1363.27,2725.69L1364.02,2723.83L1364.76,2721.98L1365.5,2720.12L1366.24,2718.26L1366.98,2716.4L1367.72,2714.55L1368.46,2712.69L1369.2,2710.83L1369.94,2708.97L1370.68,2707.11L1371.42,2705.25L1372.16,2703.39L1372.89,2701.54L1373.63,2699.68L1374.37,2697.82L1375.11,2695.96L1375.85,2694.1L1376.58,2692.24L1377.32,2690.38L1378.06,2688.52L1378.79,2686.66L1379.53,2684.8L1380.27,2682.94L1381.01,2681.08L1381.74,2679.23L1382.48,2677.37L1383.22,2675.51L1383.95,2673.65L1384.69,2671.79L1385.43,2669.93L1386.17,2668.07L1386.91,2666.21L1387.65,2664.35L1388.39,2662.5L1389.13,2660.64L1389.87,2658.78L1390.61,2656.92L1391.35,2655.07L1392.09,2653.21L1392.84,2651.35L1393.58,2649.5L1394.33,2647.64L1395.08,2645.79L1395.83,2643.93L1396.58,2642.08L1397.33,2640.23L1398.08,2638.37L1398.84,2636.52L1399.59,2634.67L1400.35,2632.82L1401.11,2630.97L1401.87,2629.12L1402.64,2627.27L1403.4,2625.43L1404.17,2623.58L1404.94,2621.73L1405.71,2619.89L1406.49,2618.05L1407.26,2616.2L1408.04,2614.36L1408.82,2612.52L1409.6,2610.68L1410.38,2608.84L1411.17,2607L1411.96,2605.17L1412.75,2603.33L1413.54,2601.49L1414.34,2599.66L1415.14,2597.83L1415.94,2595.99L1416.74,2594.16L1417.54,2592.33L1418.35,2590.5L1419.16,2588.67L1419.97,2586.85L1420.78,2585.02L1421.6,2583.19L1422.42,2581.37L1423.24,2579.55L1424.06,2577.72L1424.89,2575.9L1425.71,2574.08L1426.55,2572.27L1427.38,2570.45L1428.22,2568.63L1429.05,2566.82L1429.89,2565L1430.74,2563.19L1431.58,2561.38L1432.43,2559.57L1433.28,2557.76L1434.14,2555.95L1434.99,2554.14L1435.85,2552.34L1436.71,2550.53L1437.57,2548.73L1438.44,2546.93L1439.31,2545.12L1440.18,2543.32L1441.05,2541.52L1441.92,2539.72L1442.8,2537.93L1443.68,2536.13L1444.56,2534.33L1445.44,2532.54L1446.32,2530.75L1447.21,2528.95L1448.1,2527.16L1448.99,2525.37L1449.88,2523.58L1450.78,2521.79L1451.67,2520L1452.57,2518.22L1453.47,2516.43L1454.37,2514.64L1455.28,2512.86L1456.18,2511.08L1457.09,2509.29L1458,2507.51L1458.91,2505.73L1459.82,2503.95L1460.74,2502.17L1461.65,2500.4L1462.57,2498.62L1463.49,2496.84L1464.41,2495.07L1465.34,2493.3L1466.26,2491.52L1467.19,2489.75L1468.12,2487.98L1469.05,2486.21L1469.99,2484.44L1470.92,2482.67L1471.86,2480.91L1472.8,2479.14L1473.74,2477.38L1474.68,2475.61L1475.62,2473.85L1476.57,2472.09L1477.52,2470.33L1478.47,2468.57L1479.42,2466.81L1480.37,2465.05L1481.33,2463.29L1482.29,2461.54L1483.25,2459.79L1484.21,2458.03L1485.17,2456.28L1486.14,2454.53L1487.11,2452.78L1488.08,2451.03L1489.05,2449.29L1490.03,2447.54L1491.01,2445.8L1491.99,2444.06L1492.97,2442.32L1493.96,2440.58L1494.95,2438.84L1495.94,2437.11L1496.93,2435.37L1497.93,2433.64L1498.93,2431.91L1499.93,2430.18L1500.94,2428.46L1501.95,2426.73L1502.96,2425.01L1503.98,2423.29L1505,2421.57L1506.02,2419.85L1507.05,2418.14L1508.08,2416.42L1509.11,2414.71L1510.14,2413L1511.18,2411.29L1512.22,2409.59L1513.27,2407.88L1514.31,2406.18L1515.36,2404.48L1516.42,2402.78L1517.47,2401.08L1518.53,2399.39L1519.59,2397.69L1520.65,2396L1521.72,2394.31L1522.78,2392.62L1523.85,2390.93L1524.92,2389.24L1526,2387.55L1527.07,2385.87L1528.15,2384.18L1529.23,2382.5L1530.31,2380.82L1531.39,2379.14L1532.48,2377.46L1533.57,2375.78L1534.65,2374.1L1535.74,2372.42L1536.83,2370.75L1537.93,2369.07L1539.02,2367.4L1540.11,2365.73L1541.21,2364.05L1542.3,2362.38L1543.4,2360.71L1544.5,2359.03L1545.59,2357.36L1546.69,2355.69L1547.79,2354.02L1548.89,2352.35L1549.98,2350.68L1551.08,2349.01L1552.18,2347.33L1553.27,2345.66L1554.37,2343.99L1555.46,2342.32L1556.56,2340.64L1557.65,2338.97L1558.74,2337.3L1559.83,2335.62L1560.92,2333.95L1562.01,2332.27L1563.1,2330.6L1564.18,2328.92L1565.27,2327.24L1566.35,2325.56L1567.43,2323.88L1568.51,2322.2L1569.6,2320.52L1570.68,2318.84L1571.76,2317.16L1572.84,2315.48L1573.93,2313.81L1575.01,2312.13L1576.1,2310.45L1577.19,2308.78L1578.29,2307.11L1579.39,2305.43L1580.49,2303.77L1581.59,2302.1L1582.7,2300.44L1583.82,2298.77L1584.94,2297.12L1586.06,2295.46L1587.2,2293.81L1588.34,2292.16L1589.48,2290.51L1590.63,2288.87L1591.79,2287.23L1592.96,2285.6L1594.14,2283.97L1595.32,2282.35L1596.51,2280.73L1597.72,2279.12L1598.93,2277.51L1600.15,2275.91L1601.38,2274.31L1602.62,2272.72L1603.87,2271.13L1605.13,2269.56L1606.4,2267.98L1607.68,2266.42L1608.97,2264.86L1610.27,2263.31L1611.58,2261.77L1612.9,2260.24L1614.22,2258.71L1615.56,2257.19L1616.91,2255.68L1618.27,2254.18L1619.64,2252.69L1621.02,2251.21L1622.41,2249.74L1623.81,2248.28L1625.22,2246.82L1626.65,2245.38L1628.08,2243.95L1629.52,2242.53L1630.98,2241.12L1632.44,2239.72L1633.92,2238.33L1635.41,2236.96L1636.9,2235.59L1638.41,2234.24L1639.93,2232.9L1641.46,2231.57L1643,2230.26L1644.55,2228.95L1646.11,2227.67L1647.68,2226.39L1649.26,2225.13L1650.86,2223.88L1652.46,2222.65L1654.07,2221.43L1655.69,2220.22L1657.32,2219.03L1658.97,2217.85L1660.62,2216.69L1662.28,2215.55L1663.96,2214.42L1665.64,2213.3L1667.33,2212.21L1669.03,2211.13L1670.74,2210.06L1672.46,2209.02L1674.19,2207.99L1675.93,2206.98L1677.68,2205.99L1679.44,2205.01L1681.2,2204.06L1682.98,2203.13L1684.76,2202.21L1686.55,2201.32L1688.35,2200.44L1690.16,2199.59L1691.98,2198.75L1693.8,2197.94L1695.63,2197.15L1697.47,2196.38L1699.32,2195.64L1701.17,2194.92L1703.03,2194.22L1704.9,2193.54L1706.77,2192.89L1708.65,2192.26L1710.54,2191.66L1712.43,2191.08L1714.32,2190.53L1716.23,2190L1718.13,2189.5L1720.04,2189.03L1721.96,2188.58L1723.88,2188.16L1725.8,2187.77L1727.73,2187.4L1729.66,2187.07L1731.59,2186.76L1733.53,2186.48L1735.46,2186.23L1737.4,2186.02L1739.35,2185.83L1741.29,2185.67L1743.23,2185.55L1745.18,2185.46L1747.12,2185.4L1749.07,2185.37L1751.01,2185.37L1752.95,2185.41L1754.9,2185.48L1756.84,2185.59L1758.78,2185.72L1760.71,2185.89L1762.65,2186.09L1764.59,2186.32L1766.52,2186.58L1768.45,2186.87L1770.37,2187.19L1772.29,2187.54L1774.21,2187.92L1776.13,2188.33L1778.04,2188.76L1779.95,2189.22L1781.85,2189.71L1783.75,2190.23L1785.64,2190.77L1787.53,2191.33L1789.41,2191.93L1791.29,2192.54L1793.16,2193.18L1795.02,2193.85L1796.88,2194.53L1798.73,2195.24L1800.58,2195.98L1802.42,2196.73L1804.25,2197.51L1806.08,2198.3L1807.9,2199.12L1809.71,2199.96L1811.51,2200.82L1813.31,2201.69L1815.1,2202.59L1816.89,2203.5L1818.66,2204.44L1820.43,2205.39L1822.19,2206.35L1823.94,2207.34L1825.68,2208.34L1827.42,2209.35L1829.14,2210.39L1830.86,2211.44L1832.57,2212.5L1834.28,2213.58L1835.97,2214.67L1837.66,2215.78L1839.34,2216.9L1841,2218.04L1842.67,2219.19L1844.32,2220.35L1845.96,2221.53L1847.6,2222.72L1849.22,2223.92L1850.84,2225.13L1852.45,2226.35L1854.05,2227.59L1855.64,2228.83L1857.22,2230.09L1858.8,2231.36L1860.36,2232.64L1861.92,2233.93L1863.47,2235.23L1865.01,2236.54L1866.54,2237.86L1868.06,2239.19L1869.57,2240.53L1871.08,2241.88L1872.57,2243.24L1874.06,2244.6L1875.54,2245.98L1877.01,2247.37L1878.47,2248.76L1879.92,2250.16L1881.36,2251.58L1882.8,2253L1884.22,2254.42L1885.64,2255.86L1887.05,2257.3L1888.45,2258.75L1889.84,2260.21L1891.22,2261.68L1892.6,2263.15L1893.97,2264.63L1895.32,2266.12L1896.67,2267.61L1898.02,2269.11L1899.35,2270.62L1900.68,2272.14L1901.99,2273.66L1903.3,2275.19L1904.6,2276.72L1905.9,2278.26L1907.18,2279.81L1908.46,2281.36L1909.73,2282.92L1911,2284.49L1912.25,2286.06L1913.5,2287.63L1914.74,2289.21L1915.97,2290.8L1917.2,2292.39L1918.42,2293.99L1919.63,2295.59L1920.84,2297.2L1922.03,2298.81L1923.23,2300.43L1924.41,2302.05L1925.59,2303.68L1926.76,2305.31L1927.93,2306.94L1929.09,2308.58L1930.25,2310.22L1931.4,2311.87L1932.54,2313.52L1933.68,2315.18L1934.81,2316.83L1935.94,2318.5L1937.06,2320.16L1938.18,2321.83L1939.3,2323.5L1940.4,2325.17L1941.51,2326.85L1942.61,2328.53L1943.71,2330.21L1944.8,2331.9L1945.89,2333.58L1946.97,2335.27L1948.05,2336.96L1949.13,2338.66L1950.2,2340.35L1951.27,2342.05L1952.34,2343.75L1953.41,2345.45L1954.47,2347.16L1955.52,2348.86L1956.58,2350.57L1957.63,2352.28L1958.67,2353.99L1959.72,2355.7L1960.76,2357.42L1961.8,2359.13L1962.84,2360.85L1963.87,2362.57L1964.9,2364.29L1965.93,2366.01L1966.95,2367.73L1967.97,2369.46L1968.99,2371.18L1970.01,2372.91L1971.02,2374.64L1972.04,2376.37L1973.05,2378.1L1974.05,2379.83L1975.06,2381.56L1976.06,2383.29L1977.06,2385.03L1978.06,2386.76L1979.06,2388.5L1980.05,2390.24L1981.04,2391.98L1982.03,2393.72L1983.02,2395.46L1984,2397.2L1984.98,2398.94L1985.96,2400.69L1986.94,2402.43L1987.91,2404.18L1988.88,2405.93L1989.85,2407.68L1990.81,2409.43L1991.77,2411.18L1992.73,2412.94L1993.69,2414.69L1994.64,2416.45L1995.59,2418.21L1996.54,2419.97L1997.48,2421.74L1998.42,2423.5L1999.35,2425.27L2000.29,2427.04L2001.21,2428.81L2002.14,2430.58L2003.06,2432.35L2003.98,2434.13L2004.9,2435.91L2005.81,2437.68L2006.72,2439.47L2007.63,2441.25L2008.53,2443.03L2009.44,2444.82L2010.34,2446.6L2011.23,2448.39L2012.13,2450.18L2013.02,2451.97L2013.91,2453.76L2014.8,2455.55L2015.69,2457.34L2016.58,2459.13L2017.46,2460.93L2018.35,2462.72L2019.23,2464.52L2020.11,2466.31L2020.99,2468.11L2021.87,2469.91L2022.75,2471.7L2023.63,2473.5L2024.5,2475.3L2025.38,2477.1L2026.26,2478.89L2027.13,2480.69L2028.01,2482.49L2028.89,2484.29L2029.76,2486.09L2030.63,2487.89L2031.51,2489.68L2032.38,2491.48L2033.25,2493.28L2034.12,2495.08L2034.99,2496.88L2035.86,2498.69L2036.73,2500.49L2037.6,2502.29L2038.46,2504.09L2039.32,2505.9L2040.19,2507.7L2041.05,2509.5L2041.91,2511.31L2042.76,2513.12L2043.62,2514.92L2044.47,2516.73L2045.32,2518.54L2046.17,2520.35L2047.02,2522.16L2047.87,2523.97L2048.71,2525.78L2049.55,2527.6L2050.39,2529.41L2051.22,2531.23L2052.06,2533.04L2052.89,2534.86L2053.71,2536.68L2054.54,2538.5L2055.36,2540.32L2056.18,2542.15L2057,2543.97L2057.82,2545.79L2058.63,2547.62L2059.45,2549.45L2060.26,2551.27L2061.06,2553.1L2061.87,2554.93L2062.67,2556.76L2063.47,2558.59L2064.27,2560.42L2065.07,2562.26L2065.86,2564.09L2066.66,2565.93L2067.45,2567.76L2068.24,2569.6L2069.03,2571.43L2069.81,2573.27L2070.59,2575.11L2071.38,2576.95L2072.16,2578.79L2072.94,2580.63L2073.71,2582.48L2074.49,2584.32L2075.26,2586.16L2076.03,2588.01L2076.8,2589.85L2077.57,2591.7L2078.34,2593.54L2079.1,2595.39L2079.87,2597.24L2080.63,2599.08L2081.39,2600.93L2082.15,2602.78L2082.91,2604.63L2083.67,2606.48L2084.42,2608.33L2085.18,2610.18L2085.93,2612.04L2086.69,2613.89L2087.44,2615.74L2088.19,2617.59L2088.94,2619.45L2089.69,2621.3L2090.44,2623.15L2091.19,2625.01L2091.94,2626.86L2092.69,2628.71L2093.44,2630.57L2094.19,2632.42L2094.93,2634.28L2095.68,2636.13L2096.43,2637.99L2097.18,2639.84L2097.93,2641.69L2098.68,2643.55L2099.43,2645.4L2100.18,2647.25L2100.93,2649.11L2101.68,2650.96L2102.43,2652.81L2103.19,2654.67L2103.94,2656.52L2104.69,2658.37L2105.44,2660.22L2106.2,2662.08L2106.95,2663.93L2107.7,2665.78L2108.46,2667.63L2109.21,2669.48L2109.97,2671.33L2110.72,2673.19L2111.48,2675.04L2112.23,2676.89L2112.99,2678.74L2113.74,2680.59L2114.5,2682.44L2115.25,2684.29L2116,2686.15L2116.76,2688L2117.51,2689.85L2118.27,2691.7L2119.02,2693.55L2119.78,2695.4L2120.53,2697.25L2121.29,2699.1L2122.04,2700.95L2122.79,2702.81L2123.55,2704.66L2124.3,2706.51L2125.06,2708.36L2125.81,2710.21L2126.56,2712.06L2127.31,2713.91L2128.07,2715.77L2128.82,2717.62L2129.57,2719.47L2130.32,2721.32L2131.07,2723.17L2131.82,2725.03L2132.57,2726.88L2133.32,2728.73L2134.07,2730.58L2134.82,2732.44L2135.57,2734.29L2136.31,2736.14L2137.06,2737.99L2137.8,2739.85L2138.55,2741.7L2139.29,2743.56L2140.03,2745.41L2140.78,2747.27L2141.52,2749.12L2142.26,2750.98L2142.99,2752.83L2143.73,2754.69L2144.47,2756.55L2145.2,2758.41L2145.94,2760.26L2146.67,2762.12L2147.4,2763.98L2148.13,2765.84L2148.86,2767.7L2149.59,2769.56L2150.32,2771.42L2151.05,2773.28L2151.78,2775.14L2152.51,2777L2153.24,2778.86L2153.97,2780.72L2154.7,2782.58L2155.43,2784.44L2156.16,2786.3L2156.89,2788.15L2157.62,2790.01L2158.36,2791.87L2159.09,2793.73L2159.82,2795.59L2160.56,2797.45L2161.29,2799.3L2162.03,2801.16L2162.77,2803.02L2163.51,2804.87L2164.25,2806.73L2164.99,2808.59L2165.74,2810.44L2166.48,2812.29L2167.23,2814.15L2167.97,2816L2168.72,2817.86L2169.47,2819.71L2170.22,2821.56L2170.97,2823.41L2171.72,2825.27L2172.47,2827.12L2173.22,2828.97L2173.98,2830.82L2174.73,2832.67L2175.49,2834.52L2176.24,2836.37L2177,2838.22L2177.75,2840.07L2178.51,2841.92L2179.27,2843.77L2180.02,2845.62L2180.78,2847.47L2181.54,2849.32L2182.3,2851.17L2183.06,2853.02L2183.82,2854.87L2184.58,2856.72L2185.33,2858.57L2186.09,2860.42L2186.85,2862.27L2187.61,2864.12L2188.37,2865.97L2189.12,2867.82L2189.88,2869.67L2190.64,2871.52L2191.39,2873.37L2192.15,2875.22L2192.9,2877.08L2193.66,2878.93L2194.41,2880.78L2195.16,2882.63L2195.91,2884.49L2196.66,2886.34L2197.41,2888.19L2198.16,2890.05L2198.9,2891.9L2199.65,2893.76L2200.39,2895.62L2201.13,2897.47L2201.87,2899.33L2202.61,2901.19L2203.35,2903.05L2204.08,2904.91L2204.81,2906.77L2205.55,2908.63L2206.28,2910.49L2207.01,2912.35L2207.73,2914.22L2208.46,2916.08L2209.18,2917.94L2209.91,2919.81L2210.63,2921.67L2211.35,2923.54L2212.07,2925.41L2212.78,2927.27L2213.5,2929.14L2214.21,2931.01L2214.93,2932.88L2215.64,2934.75L2216.35,2936.62L2217.06,2938.49L2217.77,2940.36L2218.47,2942.23L2219.18,2944.1L2219.88,2945.97L2220.59,2947.85L2221.29,2949.72L2221.99,2951.59L2222.69,2953.47L2223.39,2955.34L2224.09,2957.22L2224.78,2959.09L2225.48,2960.97L2226.18,2962.84L2226.87,2964.72L2227.57,2966.6L2228.26,2968.47L2228.96,2970.35L2229.65,2972.23L2230.34,2974.1L2231.04,2975.98L2231.73,2977.86L2232.42,2979.74L2233.11,2981.61L2233.81,2983.49L2234.5,2985.37L2235.19,2987.25L2235.88,2989.12L2236.58,2991L2237.27,2992.88L2237.96,2994.75L2238.66,2996.63L2239.35,2998.51L2240.05,3000.38L2240.74,3002.26L2241.44,3004.13L2242.14,3006.01L2242.83,3007.89L2243.53,3009.76L2244.23,3011.63L2244.93,3013.51L2245.64,3015.38L2246.34,3017.26L2247.04,3019.13L2247.75,3021L2248.46,3022.87L2249.17,3024.74L2249.88,3026.61L2250.59,3028.48L2251.31,3030.35L2252.02,3032.21L2252.74,3034.08L2253.46,3035.94L2254.19,3037.81L2254.92,3039.67L2255.65,3041.53L2256.38,3043.39L2257.11,3045.25L2257.85,3047.11L2258.59,3048.97L2259.34,3050.82L2260.08,3052.67L2260.84,3054.53L2261.59,3056.38L2262.35,3058.22L2263.11,3060.07L2263.88,3061.92L2264.65,3063.76L2265.42,3065.6L2266.2,3067.44L2266.98,3069.28L2267.77,3071.12L2268.56,3072.95L2269.35,3074.79L2270.15,3076.62L2270.95,3078.45L2271.76,3080.27L2272.57,3082.1L2273.39,3083.92L2274.21,3085.74L2275.03,3087.56L2275.86,3089.38L2276.69,3091.19L2277.53,3093.01L2278.37,3094.82L2279.22,3096.63L2280.07,3098.43L2280.93,3100.24L2281.79,3102.04L2282.65,3103.84L2283.52,3105.64L2284.4,3107.43L2285.28,3109.23L2286.16,3111.02L2287.05,3112.81L2287.94,3114.59L2288.84,3116.38L2289.74,3118.16L2290.65,3119.94L2291.56,3121.72L2292.48,3123.49L2293.4,3125.27L2294.33,3127.04L2295.25,3128.81L2296.19,3130.57L2297.13,3132.34L2298.07,3134.1L2299.01,3135.86L2299.96,3137.62L2300.92,3139.37L2301.87,3141.13L2302.84,3142.88L2303.8,3144.63L2304.77,3146.38L2305.74,3148.13L2306.72,3149.87L2307.7,3151.61L2308.68,3153.35L2309.67,3155.09L2310.66,3156.83L2311.65,3158.57L2312.65,3160.3L2313.65,3162.03L2314.65,3163.76L2315.65,3165.5L2316.65,3167.23L2317.66,3168.95L2318.66,3170.68L2319.67,3172.41L2320.68,3174.14L2321.69,3175.86L2322.7,3177.59L2323.54,3179.03" fill="none" stroke="#00c46e" stroke-width="6" stroke-linejoin="round"/>
<path d="M362.5,3517.5H389M362.5,3415.75H376M362.5,3314H389M362.5,3212.25H376M362.5,3110.5H389M362.5,3008.75H376M362.5,2907H389M362.5,2805.25H376M362.5,2703.5H389M362.5,2601.75H376M362.5,2500H389M362.5,2398.25H376M362.5,2296.5H389M362.5,2194.75H376M362.5,2093H389M362.5,1991.25H376M362.5,1889.5H389M362.5,3517.5V3490M451.68,3517.5V3503M540.86,3517.5V3490M630.05,3517.5V3503M719.23,3517.5V3490M808.41,3517.5V3503M897.59,3517.5V3490M986.77,3517.5V3503M1075.95,3517.5V3490M1165.14,3517.5V3503M1254.32,3517.5V3490M1343.5,3517.5V3503M1432.68,3517.5V3490M1521.86,3517.5V3503M1611.05,3517.5V3490M1700.23,3517.5V3503M1789.41,3517.5V3490M1878.59,3517.5V3503M1967.77,3517.5V3490M2056.95,3517.5V3503M2146.14,3517.5V3490M2235.32,3517.5V3503M2324.5,3517.5V3490" stroke="#000" stroke-width="5" fill="none"/>
<rect x="362.5" y="1889.5" width="1962" height="1628" fill="none" stroke="#000" stroke-width="5"/>
<line x1="411.6" y1="2827.7" x2="411.6" y2="1939.5" stroke="#000" stroke-width="6"/><path d="M411.6,1897L426.1,1956L411.6,1941.5L397.1,1956Z" fill="#000"/>
<line x1="1226" y1="3474.4" x2="1626" y2="3474.4" stroke="#000" stroke-width="7"/><path d="M1665.6,3474.4L1605,3489.6L1624,3474.4L1605,3459.2Z" fill="#000"/>
<line x1="2060" y1="3266.5" x2="1591" y2="3266.5" stroke="#ff0000" stroke-width="4"/><path d="M1551.4,3266.5L1595,3256.2L1593,3266.5L1595,3276.8Z" fill="#ff0000"/>
<line x1="1201" y1="2110.9" x2="1451.43" y2="2275.52" stroke="#000" stroke-width="3.6"/><path d="M1476.5,2292L1436.75,2277.84L1449.76,2274.42L1447.73,2261.12Z" fill="#000"/>
<line x1="2006.6" y1="2042.3" x2="1885.64" y2="2194.8" stroke="#000" stroke-width="3.6"/><path d="M1867,2218.3L1884.25,2179.65L1886.89,2193.23L1900.71,2192.7Z" fill="#000"/>
<g id="texts" font-family='"Liberation Sans", sans-serif'>
<text id="a_lp" x="31.4" y="122.6" font-size="105.7" textLength="30.81" lengthAdjust="spacingAndGlyphs" stroke="#fff" stroke-width="2.2">(</text>
<text id="a_a" x="62.01" y="122.6" font-size="96" textLength="45.89" lengthAdjust="spacingAndGlyphs" stroke="#fff" stroke-width="2.2">a</text>
<text id="a_rp" x="112.54" y="122.6" font-size="105.7" textLength="30.62" lengthAdjust="spacingAndGlyphs" stroke="#fff" stroke-width="2.2">)</text>
<text id="ya0" x="145.91" y="104.7" font-size="97" font-weight="bold" textLength="136.51" lengthAdjust="spacingAndGlyphs" stroke="#fff" stroke-width="1.1">1.0</text>
<text id="ya1" x="146.39" y="430.1" font-size="97" font-weight="bold" textLength="134.37" lengthAdjust="spacingAndGlyphs" stroke="#fff" stroke-width="1.1">0.8</text>
<text id="ya2" x="146.35" y="755.5" font-size="97" font-weight="bold" textLength="135.96" lengthAdjust="spacingAndGlyphs" stroke="#fff" stroke-width="1.1">0.6</text>
<text id="ya3" x="147.03" y="1080.9" font-size="97" font-weight="bold" textLength="133.82" lengthAdjust="spacingAndGlyphs" stroke="#fff" stroke-width="1.1">0.4</text>
<text id="ya4" x="146.3" y="1406.3" font-size="97" font-weight="bold" textLength="137.04" lengthAdjust="spacingAndGlyphs" stroke="#fff" stroke-width="1.1">0.2</text>
<text id="ya5" x="146.37" y="1731.7" font-size="97" font-weight="bold" textLength="135.41" lengthAdjust="spacingAndGlyphs" stroke="#fff" stroke-width="1.1">0.0</text>
<text id="xa0" x="246.96" y="1812.6" font-size="97" font-weight="bold" textLength="135.93" lengthAdjust="spacingAndGlyphs" stroke="#fff" stroke-width="1.1">2.5</text>
<text id="xa1" x="499.02" y="1812.6" font-size="97" font-weight="bold" textLength="132.8" lengthAdjust="spacingAndGlyphs" stroke="#fff" stroke-width="1.1">3.0</text>
<text id="xa2" x="750.59" y="1812.6" font-size="97" font-weight="bold" textLength="133.85" lengthAdjust="spacingAndGlyphs" stroke="#fff" stroke-width="1.1">3.5</text>
<text id="xa3" x="1002.18" y="1812.6" font-size="97" font-weight="bold" textLength="135.91" lengthAdjust="spacingAndGlyphs" stroke="#fff" stroke-width="1.1">4.0</text>
<text id="xa4" x="1252.16" y="1812.6" font-size="97" font-weight="bold" textLength="136.44" lengthAdjust="spacingAndGlyphs" stroke="#fff" stroke-width="1.1">4.5</text>
<text id="xa5" x="1504.99" y="1812.6" font-size="97" font-weight="bold" textLength="134.36" lengthAdjust="spacingAndGlyphs" stroke="#fff" stroke-width="1.1">5.0</text>
<text id="xa6" x="1757.04" y="1812.6" font-size="97" font-weight="bold" textLength="132.79" lengthAdjust="spacingAndGlyphs" stroke="#fff" stroke-width="1.1">5.5</text>
<text id="xa7" x="2005.93" y="1812.6" font-size="97" font-weight="bold" textLength="136.49" lengthAdjust="spacingAndGlyphs" stroke="#fff" stroke-width="1.1">6.0</text>
<text id="xa8" x="2255.18" y="1812.6" font-size="97" font-weight="bold" textLength="134.37" lengthAdjust="spacingAndGlyphs" stroke="#fff" stroke-width="1.1">6.5</text>
<text id="absorp" transform="translate(489,619.95) rotate(-90)" x="0" y="0" font-size="98.6" textLength="459.7" lengthAdjust="spacingAndGlyphs" stroke="#fff" stroke-width="2.2">Absorption</text>
<text id="freq" x="1505.79" y="1623.8" font-size="98" textLength="458.77" lengthAdjust="spacingAndGlyphs" stroke="#fff" stroke-width="2.2">Frequency,</text>
<text id="ghz" x="1984.11" y="1623.9" font-size="98.5" font-style="italic" textLength="176.39" lengthAdjust="spacingAndGlyphs" stroke="#fff" stroke-width="2.2">GHz</text>
<text id="f1" x="577.32" y="634.4" font-size="83" font-style="italic" textLength="21.42" lengthAdjust="spacingAndGlyphs">f</text>
<text id="f1s" x="609.34" y="655.4" font-size="55" font-style="italic" textLength="20.21" lengthAdjust="spacingAndGlyphs">1</text>
<text id="f1r" x="651.51" y="634.4" font-size="83" font-style="italic" textLength="337.37" lengthAdjust="spacingAndGlyphs">= 3.4 GHz</text>
<text id="f2" x="974.24" y="515.2" font-size="83" font-style="italic" textLength="19.42" lengthAdjust="spacingAndGlyphs">f</text>
<text id="f2s" x="999.66" y="535.4" font-size="55" font-style="italic" textLength="28.74" lengthAdjust="spacingAndGlyphs">2</text>
<text id="f2r" x="1048.18" y="515.2" font-size="83" font-style="italic" textLength="334.74" lengthAdjust="spacingAndGlyphs">= 4.2 GHz</text>
<text id="exper" x="1876.32" y="233.5" font-size="81" font-style="italic" fill="#00c46e" textLength="387.62" lengthAdjust="spacingAndGlyphs" stroke="#fff" stroke-width="2.2">experiment</text>
<text id="theory" x="1803.48" y="1361.7" font-size="82.5" font-style="italic" fill="#0061a0" textLength="217.14" lengthAdjust="spacingAndGlyphs" stroke="#fff" stroke-width="2.2">theory</text>
<text id="b_lp" x="28.98" y="1922.7" font-size="95" textLength="28.15" lengthAdjust="spacingAndGlyphs" stroke="#fff" stroke-width="2.2">(</text>
<text id="b_b" x="56.45" y="1922.8" font-size="89.3" textLength="49.23" lengthAdjust="spacingAndGlyphs" stroke="#fff" stroke-width="2.2">b</text>
<text id="b_rp" x="103.58" y="1922.7" font-size="95" textLength="29.51" lengthAdjust="spacingAndGlyphs" stroke="#fff" stroke-width="2.2">)</text>
<text id="yb0" x="158.96" y="1911" font-size="88.5" font-weight="bold" textLength="173.33" lengthAdjust="spacingAndGlyphs" stroke="#fff" stroke-width="1.1">2.00</text>
<text id="yb1" x="159.01" y="2114.5" font-size="88.5" font-weight="bold" textLength="171.75" lengthAdjust="spacingAndGlyphs" stroke="#fff" stroke-width="1.1">1.75</text>
<text id="yb2" x="159.16" y="2318" font-size="88.5" font-weight="bold" textLength="172.8" lengthAdjust="spacingAndGlyphs" stroke="#fff" stroke-width="1.1">1.50</text>
<text id="yb3" x="159.2" y="2521.5" font-size="88.5" font-weight="bold" textLength="171.77" lengthAdjust="spacingAndGlyphs" stroke="#fff" stroke-width="1.1">1.25</text>
<text id="yb4" x="159.16" y="2725" font-size="88.5" font-weight="bold" textLength="172.8" lengthAdjust="spacingAndGlyphs" stroke="#fff" stroke-width="1.1">1.00</text>
<text id="yb5" x="157.97" y="2928.5" font-size="88.5" font-weight="bold" textLength="173.31" lengthAdjust="spacingAndGlyphs" stroke="#fff" stroke-width="1.1">0.75</text>
<text id="yb6" x="157.95" y="3132" font-size="88.5" font-weight="bold" textLength="174.35" lengthAdjust="spacingAndGlyphs" stroke="#fff" stroke-width="1.1">0.50</text>
<text id="yb7" x="157.97" y="3335.5" font-size="88.5" font-weight="bold" textLength="173.31" lengthAdjust="spacingAndGlyphs" stroke="#fff" stroke-width="1.1">0.25</text>
<text id="yb8" x="158.55" y="3539" font-size="88.5" font-weight="bold" textLength="174.36" lengthAdjust="spacingAndGlyphs" stroke="#fff" stroke-width="1.1">0.00</text>
<text id="xb0" x="315.76" y="3613" font-size="88.5" font-weight="bold" textLength="81.83" lengthAdjust="spacingAndGlyphs" stroke="#fff" stroke-width="1.1">−1</text>
<text id="xb1" x="515.63" y="3613" font-size="88.5" font-weight="bold" textLength="51.16" lengthAdjust="spacingAndGlyphs" stroke="#fff" stroke-width="1.1">0</text>
<text id="xb2" x="697.95" y="3613" font-size="88.5" font-weight="bold" textLength="30.76" lengthAdjust="spacingAndGlyphs" stroke="#fff" stroke-width="1.1">1</text>
<text id="xb3" x="872.85" y="3613" font-size="88.5" font-weight="bold" textLength="50.52" lengthAdjust="spacingAndGlyphs" stroke="#fff" stroke-width="1.1">2</text>
<text id="xb4" x="1051.94" y="3613" font-size="88.5" font-weight="bold" textLength="49.37" lengthAdjust="spacingAndGlyphs" stroke="#fff" stroke-width="1.1">3</text>
<text id="xb5" x="1231.52" y="3613" font-size="88.5" font-weight="bold" textLength="45.23" lengthAdjust="spacingAndGlyphs" stroke="#fff" stroke-width="1.1">4</text>
<text id="xb6" x="1407.83" y="3613" font-size="88.5" font-weight="bold" textLength="49.37" lengthAdjust="spacingAndGlyphs" stroke="#fff" stroke-width="1.1">5</text>
<text id="xb7" x="1586.27" y="3613" font-size="88.5" font-weight="bold" textLength="49.42" lengthAdjust="spacingAndGlyphs" stroke="#fff" stroke-width="1.1">6</text>
<text id="xb8" x="1763.62" y="3613" font-size="88.5" font-weight="bold" textLength="51.72" lengthAdjust="spacingAndGlyphs" stroke="#fff" stroke-width="1.1">7</text>
<text id="xb9" x="1943.21" y="3613" font-size="88.5" font-weight="bold" textLength="49.34" lengthAdjust="spacingAndGlyphs" stroke="#fff" stroke-width="1.1">8</text>
<text id="xb10" x="2121.71" y="3613" font-size="88.5" font-weight="bold" textLength="49.34" lengthAdjust="spacingAndGlyphs" stroke="#fff" stroke-width="1.1">9</text>
<text id="xb11" x="2274.92" y="3613" font-size="88.5" font-weight="bold" textLength="99.6" lengthAdjust="spacingAndGlyphs" stroke="#fff" stroke-width="1.1">10</text>
<text id="efield" transform="translate(515.8,2792.58) rotate(-90)" x="0" y="0" font-size="97" textLength="886.33" lengthAdjust="spacingAndGlyphs" stroke="#fff" stroke-width="2.2">Electric field modulus</text>
<text id="e2_b1" transform="translate(980.93,2125.7) skewX(-9)" x="0" y="0" font-size="77.3" fill="#0061a0" textLength="29" lengthAdjust="spacingAndGlyphs" stroke="#fff" stroke-width="1.32">|</text>
<text id="e2_E" x="1007.76" y="2130.7" font-size="88.4" font-style="italic" fill="#0061a0" textLength="53.43" lengthAdjust="spacingAndGlyphs" stroke="#fff" stroke-width="1.32">E</text>
<text id="e2_lp" x="1056.87" y="2129.9" font-size="95" font-style="italic" fill="#0061a0" textLength="27.47" lengthAdjust="spacingAndGlyphs" stroke="#fff" stroke-width="1.76">(</text>
<text id="e2_f" x="1084.12" y="2130.7" font-size="91" font-style="italic" fill="#0061a0" textLength="29.02" lengthAdjust="spacingAndGlyphs" stroke="#fff" stroke-width="1.32">f</text>
<text id="e2_s" x="1113.19" y="2153.2" font-size="61" font-style="italic" fill="#0061a0" textLength="30.94" lengthAdjust="spacingAndGlyphs">2</text>
<text id="e2_rp" x="1144.97" y="2129.9" font-size="95" font-style="italic" fill="#0061a0" textLength="25.81" lengthAdjust="spacingAndGlyphs" stroke="#fff" stroke-width="1.76">)</text>
<text id="e2_b2" transform="translate(1165.42,2125.7) skewX(-9)" x="0" y="0" font-size="77.3" fill="#0061a0" textLength="27.62" lengthAdjust="spacingAndGlyphs" stroke="#fff" stroke-width="1.32">|</text>
<text id="e1_b1" transform="translate(2017.4,2060.7) skewX(-9)" x="0" y="0" font-size="77.3" fill="#00c46e" textLength="28.05" lengthAdjust="spacingAndGlyphs" stroke="#fff" stroke-width="1.32">|</text>
<text id="e1_E" x="2042.74" y="2065.7" font-size="88.4" font-style="italic" fill="#00c46e" textLength="53.63" lengthAdjust="spacingAndGlyphs" stroke="#fff" stroke-width="1.32">E</text>
<text id="e1_lp" x="2092.19" y="2065.7" font-size="95" font-style="italic" fill="#00c46e" textLength="26.42" lengthAdjust="spacingAndGlyphs" stroke="#fff" stroke-width="1.76">(</text>
<text id="e1_f" x="2118.62" y="2065.7" font-size="91" font-style="italic" fill="#00c46e" textLength="29.04" lengthAdjust="spacingAndGlyphs" stroke="#fff" stroke-width="1.32">f</text>
<text id="e1_s" x="2154.12" y="2088.8" font-size="59" font-style="italic" fill="#00c46e" textLength="21.13" lengthAdjust="spacingAndGlyphs">1</text>
<text id="e1_rp" x="2179.22" y="2065.7" font-size="95" font-style="italic" fill="#00c46e" textLength="27.51" lengthAdjust="spacingAndGlyphs" stroke="#fff" stroke-width="1.76">)</text>
<text id="e1_b2" transform="translate(2201.17,2060.7) skewX(-9)" x="0" y="0" font-size="77.3" fill="#00c46e" textLength="26.74" lengthAdjust="spacingAndGlyphs" stroke="#fff" stroke-width="1.32">|</text>
<text id="d2" x="539.09" y="2977.3" font-size="74.8" font-style="italic" fill="#ff0000" textLength="38.25" lengthAdjust="spacingAndGlyphs" stroke="#d0e7e8" stroke-width="1.54">d</text>
<text id="d2s" x="579" y="2996.5" font-size="49" font-style="italic" fill="#ff0000" textLength="24.84" lengthAdjust="spacingAndGlyphs">2</text>
<text id="a1" x="706.53" y="2978" font-size="72" font-style="italic" fill="#ff0000" textLength="39.11" lengthAdjust="spacingAndGlyphs" stroke="#fff" stroke-width="1.54">a</text>
<text id="d1" x="842.62" y="2977.3" font-size="74.8" font-style="italic" fill="#ff0000" textLength="39.29" lengthAdjust="spacingAndGlyphs" stroke="#fdefc0" stroke-width="1.54">d</text>
<text id="d1s" x="887.88" y="2996.7" font-size="52" font-style="italic" fill="#ff0000" textLength="18.77" lengthAdjust="spacingAndGlyphs">1</text>
<text id="a2" x="998.28" y="2978" font-size="72" font-style="italic" fill="#ff0000" textLength="40.9" lengthAdjust="spacingAndGlyphs" stroke="#fff" stroke-width="1.54">a</text>
<text id="sc1" transform="translate(590.6,3156.68) rotate(-90)" x="0" y="0" font-size="75" fill="#ff0000" textLength="106.17" lengthAdjust="spacingAndGlyphs" stroke="#d0e7e8" stroke-width="2.2">s.c.</text>
<text id="diel1" transform="translate(730,3157.67) rotate(-90)" x="0" y="0" font-size="76" font-style="italic" fill="#ff0000" textLength="127.74" lengthAdjust="spacingAndGlyphs" stroke="#fff" stroke-width="2.2">diel.</text>
<text id="sc2" transform="translate(890.3,3156.92) rotate(-90)" x="0" y="0" font-size="75" fill="#ff0000" textLength="107.86" lengthAdjust="spacingAndGlyphs" stroke="#fdefc0" stroke-width="2.2">s.c.</text>
<text id="diel2" transform="translate(1045.5,3155.9) rotate(-90)" x="0" y="0" font-size="76" font-style="italic" fill="#ff0000" textLength="124.99" lengthAdjust="spacingAndGlyphs" stroke="#fff" stroke-width="2.2">diel.</text>
<text id="incid" x="1642.1" y="3248.8" font-size="74" font-style="italic" fill="#ff0000" textLength="433.16" lengthAdjust="spacingAndGlyphs" stroke="#fff" stroke-width="2.2">incident wave</text>
<text id="zcm_z" x="1322" y="3445" font-size="86" textLength="66.91" lengthAdjust="spacingAndGlyphs" stroke="#fff" stroke-width="2.2">z,</text>
<text id="zcm_cm" x="1400.7" y="3445" font-size="86" font-style="italic" textLength="123.31" lengthAdjust="spacingAndGlyphs" stroke="#fff" stroke-width="2.2">cm</text>
</g></svg></body></html>
